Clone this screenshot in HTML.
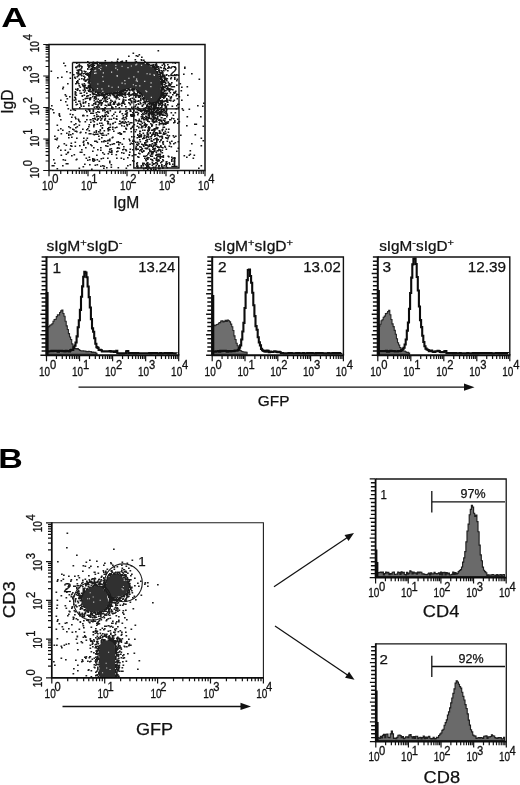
<!DOCTYPE html>
<html lang="en"><head><meta charset="utf-8"><title>Figure</title>
<style>html,body{margin:0;padding:0;background:#fff}body{width:520px;height:785px;overflow:hidden}svg{display:block}text{font-family:'Liberation Sans', sans-serif}</style>
</head><body>
<svg width="520" height="785" viewBox="0 0 520 785">
<rect width="520" height="785" fill="#fff"/>
<g transform="translate(1.2 27) scale(1.27 1)"><text x="0" y="0" font-size="28.3" font-weight="bold" fill="#000">A</text></g>
<g transform="translate(-1.8 468) scale(1.2 1)"><text x="0" y="0" font-size="28.3" font-weight="bold" fill="#000">B</text></g>
<path d="M133.8 62.5V108.8" stroke="#333" stroke-width="1" fill="none"/>
<path d="M101 94.25h1.65M123 94.25h1.65M81 75.75h1.65M79 90.75h1.65M89.5 65.25h1.65M76 83.25h1.65M104 64.75h1.65M142.5 110.25h1.65M86 73.75h1.65M158.5 71.75h1.65M83 76.25h1.65M156.5 69.25h1.65M91.5 72.25h1.65M86 88.25h1.65M157.5 99.75h1.65M149 102.25h1.65M129.5 99.75h1.65M156 69.25h1.65M142.5 102.75h1.65M114.5 101.25h1.65M165.5 107.75h1.65M160.5 95.75h1.65M158 68.75h1.65M90.5 81.75h1.65M98 92.75h1.65M156 65.25h1.65M137.5 96.75h1.65M148 64.25h1.65M131.5 98.25h1.65M120 62.25h1.65M88.5 80.25h1.65M154 117.75h1.65M133 107.25h1.65M114.5 93.75h1.65M83.5 85.75h1.65M162.5 120.25h1.65M83 106.25h1.65M89.5 99.25h1.65M136 94.25h1.65M67.5 108.75h1.65M94.5 91.75h1.65M162.5 89.25h1.65M157 74.75h1.65M100 66.25h1.65M150.5 105.75h1.65M170.5 96.75h1.65M159 123.75h1.65M74.5 97.75h1.65M146 105.75h1.65M151.5 113.75h1.65M85.5 98.25h1.65M87 79.25h1.65M123.5 123.25h1.65M111 107.25h1.65M164 79.75h1.65M98.5 91.25h1.65M161 76.25h1.65M130 114.75h1.65M143 97.75h1.65M123 117.75h1.65M121.5 89.75h1.65M87.5 82.75h1.65M175 91.25h1.65M137.5 101.25h1.65M179.5 83.75h1.65M155.5 64.25h1.65M144.5 111.75h1.65M172 86.75h1.65M108 93.25h1.65M122 94.25h1.65M107 92.75h1.65M142.5 109.25h1.65M144 124.25h1.65M137 107.25h1.65M78 83.75h1.65M78.5 66.75h1.65M87.5 86.25h1.65M93.5 65.25h1.65M104.5 60.75h1.65M168 89.75h1.65M160 103.75h1.65M165.5 93.75h1.65M129 90.75h1.65M166 113.75h1.65M92.5 89.25h1.65M120.5 90.25h1.65M89 88.75h1.65M117 105.25h1.65M111 91.75h1.65M84 73.25h1.65M135 93.75h1.65M115.5 118.75h1.65M106.5 94.75h1.65M100 102.25h1.65M147 64.75h1.65M106 62.75h1.65M163 68.75h1.65M98 92.25h1.65M85 71.75h1.65M160.5 79.25h1.65M141.5 63.75h1.65M153 69.25h1.65M91.5 88.75h1.65M159.5 112.75h1.65M107 62.75h1.65M117.5 92.75h1.65M140.5 111.25h1.65M104.5 116.75h1.65M176 94.25h1.65M91.5 67.75h1.65M151.5 66.75h1.65M157.5 98.75h1.65M124.5 95.25h1.65M164 84.75h1.65M93 69.75h1.65M163 101.75h1.65M115.5 63.75h1.65M95.5 63.75h1.65M113 91.75h1.65M78.5 125.25h1.65M91.5 65.25h1.65M101 123.25h1.65M128.5 89.75h1.65M163 96.75h1.65M160 107.75h1.65M93.5 65.25h1.65M89 91.25h1.65M124.5 90.25h1.65M85.5 80.75h1.65M125 117.25h1.65M155.5 101.25h1.65M147.5 106.25h1.65M149 103.75h1.65M146 110.75h1.65M155 106.25h1.65M158 70.75h1.65M77.5 75.75h1.65M112.5 93.25h1.65M78 70.75h1.65M103 92.75h1.65M165 90.75h1.65M84.5 80.25h1.65M151.5 65.25h1.65M154 104.25h1.65M87 69.25h1.65M147.5 103.75h1.65M163.5 90.25h1.65M158 68.75h1.65M104.5 112.75h1.65M164.5 100.75h1.65M146 63.75h1.65M107.5 104.25h1.65M159.5 67.25h1.65M88.5 79.25h1.65M168.5 67.75h1.65M122.5 63.25h1.65M117 59.25h1.65M90.5 87.75h1.65M104.5 100.25h1.65M91 77.75h1.65M147.5 110.25h1.65M146 107.75h1.65M83 86.25h1.65M82.5 102.25h1.65M163.5 110.25h1.65M91.5 69.75h1.65M129.5 104.75h1.65M154 66.75h1.65M160 83.25h1.65M92 69.25h1.65M104.5 64.25h1.65M88 75.75h1.65M73 74.75h1.65M163.5 67.25h1.65M173.5 93.25h1.65M162.5 76.75h1.65M125 100.25h1.65M153 106.25h1.65M93 89.25h1.65M152.5 103.75h1.65M169 119.75h1.65M92 65.25h1.65M113.5 96.75h1.65M81 66.75h1.65M99 91.75h1.65M163 93.25h1.65M154.5 69.25h1.65M79 101.25h1.65M92.5 111.25h1.65M148.5 106.25h1.65M86.5 88.25h1.65M167 68.25h1.65M170 98.75h1.65M166 85.75h1.65M126.5 94.25h1.65M146.5 64.25h1.65M161.5 89.25h1.65M160.5 78.25h1.65M144 95.25h1.65M140 92.75h1.65M148.5 100.75h1.65M93.5 98.75h1.65M139.5 63.25h1.65M162 84.25h1.65M126.5 87.75h1.65M109 93.75h1.65M138 97.25h1.65M122 90.75h1.65M125.5 113.25h1.65M160 92.75h1.65M75 67.25h1.65M120 93.25h1.65M132.5 115.25h1.65M169.5 85.25h1.65M102 95.25h1.65M99 103.75h1.65M91.5 113.25h1.65M95.5 98.25h1.65M164 87.25h1.65M134 88.75h1.65M147 63.25h1.65M161.5 94.25h1.65M86.5 75.25h1.65M164 95.25h1.65M92 93.75h1.65M133.5 124.75h1.65M151.5 121.25h1.65M101.5 115.75h1.65M160.5 120.25h1.65M159.5 73.25h1.65M93.5 69.75h1.65M164 105.25h1.65M137 90.75h1.65M161.5 83.25h1.65M147 101.75h1.65M90.5 64.25h1.65M90 113.25h1.65M160 73.75h1.65M88.5 85.75h1.65M154.5 65.25h1.65M92.5 88.75h1.65M157.5 102.25h1.65M91 84.75h1.65M76 81.75h1.65M161.5 88.75h1.65M116 92.25h1.65M118.5 94.75h1.65M90 75.75h1.65M102.5 95.75h1.65M133 63.25h1.65M93 94.25h1.65M143.5 101.25h1.65M176 85.25h1.65M163 80.75h1.65M162.5 93.25h1.65M132 90.75h1.65M100 95.25h1.65M89 66.75h1.65M155.5 101.75h1.65M140 64.25h1.65M123.5 63.25h1.65M136.5 112.25h1.65M94.5 92.25h1.65M163.5 64.25h1.65M181 100.25h1.65M155.5 102.75h1.65M162.5 109.75h1.65M168 88.75h1.65M89.5 74.75h1.65M159.5 75.25h1.65M143 94.25h1.65M89 99.75h1.65M62.5 87.25h1.65M91.5 74.75h1.65M125 92.25h1.65M141.5 96.75h1.65M90.5 78.75h1.65M87.5 90.25h1.65M133.5 95.25h1.65M160 90.75h1.65M108.5 98.25h1.65M87.5 109.75h1.65M79.5 87.25h1.65M96.5 124.25h1.65M174 67.25h1.65M141 114.75h1.65M163.5 91.25h1.65M143 63.75h1.65M93.5 88.75h1.65M144 110.75h1.65M177.5 107.75h1.65M153 67.25h1.65M123 99.75h1.65M160.5 73.25h1.65M131 116.25h1.65M147 63.75h1.65M92 63.75h1.65M90 97.75h1.65M111 92.25h1.65M130 115.75h1.65M126 90.75h1.65M113.5 102.25h1.65M170.5 89.25h1.65M156.5 107.75h1.65M121.5 90.25h1.65M107.5 121.75h1.65M128.5 62.75h1.65M93.5 94.25h1.65M95 91.75h1.65M178.5 96.75h1.65M125 88.25h1.65M150.5 101.75h1.65M134.5 100.25h1.65M119.5 90.75h1.65M92.5 87.75h1.65M161.5 88.75h1.65M162 101.25h1.65M104 63.75h1.65M165.5 106.25h1.65M109.5 110.75h1.65M80 104.75h1.65M161.5 79.25h1.65M135.5 95.25h1.65M109 92.75h1.65M106 105.75h1.65M91.5 92.75h1.65M128.5 92.75h1.65M87 69.25h1.65M141.5 94.75h1.65M160.5 89.75h1.65M147 121.25h1.65M128.5 89.75h1.65M89.5 89.75h1.65M128 108.75h1.65M104 98.75h1.65M69 96.75h1.65M100 120.25h1.65M116.5 95.75h1.65M125 88.75h1.65M156 72.75h1.65M143 64.25h1.65M106.5 93.25h1.65M135.5 104.75h1.65M158 98.25h1.65M135 108.25h1.65M144 101.25h1.65M90 72.75h1.65M94 69.25h1.65M93 88.25h1.65M141 118.75h1.65M174 74.75h1.65M176 74.75h1.65M145.5 64.75h1.65M81.5 84.25h1.65M142 98.75h1.65M140 64.25h1.65M103.5 116.25h1.65M132 94.75h1.65M120 89.75h1.65M158 103.75h1.65M153 115.75h1.65M166 80.75h1.65M91 82.25h1.65M110.5 92.25h1.65M121.5 93.25h1.65M97.5 66.25h1.65M166 109.75h1.65M151 102.75h1.65M101 64.25h1.65M176.5 98.75h1.65M122.5 103.25h1.65M76.5 104.25h1.65M137.5 108.25h1.65M100 91.75h1.65M159 104.75h1.65M132.5 108.75h1.65M105.5 94.25h1.65M120.5 93.75h1.65M138.5 90.75h1.65M160.5 67.75h1.65M166.5 115.25h1.65M118 62.75h1.65M164.5 93.25h1.65M174 77.75h1.65M89.5 84.25h1.65M105.5 64.25h1.65M114 93.25h1.65M163.5 101.25h1.65M99.5 63.75h1.65M152.5 64.75h1.65M159.5 79.75h1.65M173.5 100.25h1.65M100.5 93.75h1.65M157 101.75h1.65M89.5 86.25h1.65M134 89.75h1.65M161 105.75h1.65M88 85.75h1.65M164.5 95.25h1.65M141 110.75h1.65M117 92.25h1.65M128.5 87.75h1.65M89.5 72.75h1.65M110 100.25h1.65M157 74.25h1.65M133.5 115.75h1.65M108.5 105.25h1.65M129 63.75h1.65M166.5 101.75h1.65M156 110.75h1.65M82.5 99.75h1.65M133.5 88.75h1.65M95.5 106.75h1.65M161.5 73.25h1.65M137.5 90.25h1.65M172.5 115.25h1.65M152.5 118.25h1.65M89 89.75h1.65M167.5 82.25h1.65M90.5 73.25h1.65M165 83.25h1.65M121.5 61.25h1.65M87 75.25h1.65M152 67.25h1.65M164.5 103.75h1.65M161 76.25h1.65M125 63.25h1.65M106 111.75h1.65M163 63.75h1.65M116.5 61.25h1.65M85.5 87.75h1.65M126 124.75h1.65M129 103.25h1.65M123.5 119.75h1.65M88.5 82.25h1.65M134.5 94.25h1.65M80 74.75h1.65M156.5 72.25h1.65M138.5 92.25h1.65M152.5 107.75h1.65M86.5 98.25h1.65M103.5 64.75h1.65M124 89.75h1.65M96.5 62.25h1.65M130.5 89.75h1.65M96.5 101.25h1.65M115.5 92.75h1.65M139.5 96.25h1.65M143 99.75h1.65M89.5 69.25h1.65M94 67.75h1.65M111 106.75h1.65M92.5 109.75h1.65M110 105.25h1.65M121 91.25h1.65M161.5 72.75h1.65M160 91.75h1.65M83 79.75h1.65M116 62.75h1.65M160 102.25h1.65M102 93.75h1.65M131.5 90.25h1.65M146.5 99.25h1.65M88 103.75h1.65M134 89.75h1.65M173.5 86.75h1.65M159.5 93.75h1.65M123 91.25h1.65M120.5 89.75h1.65M155 118.25h1.65M91 78.75h1.65M147.5 110.75h1.65M89.5 81.25h1.65M120.5 91.75h1.65M168.5 83.75h1.65M89 110.25h1.65M77 80.75h1.65M168.5 100.25h1.65M115.5 98.75h1.65M139 91.75h1.65M119 91.25h1.65M109.5 104.25h1.65M101 62.75h1.65M146 101.25h1.65M88.5 74.75h1.65M165.5 108.25h1.65M159.5 98.25h1.65M173 92.75h1.65M151 104.25h1.65M75 102.25h1.65M93 94.25h1.65M128 63.25h1.65M98 65.75h1.65M79.5 74.75h1.65M163 89.75h1.65M117.5 95.25h1.65M161 92.75h1.65M64.5 94.75h1.65M117 90.75h1.65M86 96.25h1.65M171 82.75h1.65M92.5 67.25h1.65M106.5 101.75h1.65M130 87.25h1.65M156.5 73.25h1.65M140.5 94.75h1.65M157.5 110.25h1.65M132.5 115.25h1.65M90.5 74.75h1.65M81 78.75h1.65M131 102.75h1.65M94 118.25h1.65M128 93.25h1.65M122.5 100.75h1.65M82.5 115.25h1.65M134.5 101.75h1.65M154.5 70.75h1.65M165.5 88.75h1.65M109.5 95.75h1.65M178.5 121.75h1.65M166.5 93.25h1.65M99.5 66.25h1.65M112 63.25h1.65M112 107.75h1.65M149.5 65.75h1.65M122.5 90.75h1.65M97 66.25h1.65M98.5 94.25h1.65M114.5 63.75h1.65M120 90.25h1.65M150.5 65.25h1.65M124.5 63.75h1.65M75 83.75h1.65M165.5 86.25h1.65M91.5 72.75h1.65M74.5 110.25h1.65M170 119.75h1.65M112.5 104.25h1.65M121 103.25h1.65M110 64.25h1.65M159 76.75h1.65M90 75.75h1.65M132 112.75h1.65M137 63.75h1.65M104.5 94.75h1.65M155 71.25h1.65M138 104.25h1.65M132.5 114.75h1.65M167 87.25h1.65M107.5 95.25h1.65M86 93.25h1.65M141.5 63.75h1.65M134.5 95.25h1.65M170.5 97.25h1.65M117 93.25h1.65M75.5 67.75h1.65M98.5 92.25h1.65M86 111.75h1.65M85 101.75h1.65M132.5 87.75h1.65M84 86.75h1.65M165 122.75h1.65M136 89.75h1.65M160.5 100.75h1.65M160 76.25h1.65M148 101.75h1.65M91.5 77.75h1.65M163 81.75h1.65M92.5 65.75h1.65M139 93.75h1.65M139 63.25h1.65M161.5 102.25h1.65M129 90.75h1.65M150 106.25h1.65M161.5 100.75h1.65M177 104.25h1.65M89.5 91.75h1.65M104.5 97.75h1.65M86.5 79.75h1.65M94.5 91.75h1.65M119 91.25h1.65M116 116.25h1.65M133.5 92.25h1.65M110.5 63.75h1.65M141 93.25h1.65M123.5 93.25h1.65M158.5 72.75h1.65M165.5 112.75h1.65M125.5 113.75h1.65M166.5 100.25h1.65M74 77.25h1.65M85 74.25h1.65M154 102.25h1.65M82.5 103.25h1.65M111.5 101.25h1.65M94.5 103.75h1.65M96 107.25h1.65M156 67.25h1.65M156 103.75h1.65M170.5 77.75h1.65M113.5 93.25h1.65M90 119.75h1.65M116 97.25h1.65M79.5 103.25h1.65M75 99.25h1.65M93.5 89.75h1.65M114 92.75h1.65M89.5 80.75h1.65M131 107.75h1.65M163 98.25h1.65M133.5 87.75h1.65M161 88.25h1.65M161 103.25h1.65M162 72.75h1.65M69.5 114.25h1.65M122.5 62.75h1.65M113.5 62.75h1.65M167.5 82.75h1.65M119 93.75h1.65M129.5 98.75h1.65M160.5 101.25h1.65M106 94.25h1.65M87.5 75.25h1.65M160 95.25h1.65M145.5 119.75h1.65M82.5 73.75h1.65M107 123.25h1.65M160.5 82.75h1.65M134.5 102.25h1.65M122.5 89.25h1.65M86 119.75h1.65M89.5 94.75h1.65M91 66.25h1.65M95 89.25h1.65M87.5 66.25h1.65M128.5 96.25h1.65M156 107.75h1.65M162 104.75h1.65M142 98.75h1.65M87.5 87.75h1.65M163 87.25h1.65M66 71.75h1.65M152 66.25h1.65M133.5 93.25h1.65M162.5 92.25h1.65M93 71.25h1.65M87 95.75h1.65M161 77.25h1.65M89 83.75h1.65M164.5 106.25h1.65M148.5 64.75h1.65M158.5 96.75h1.65M90.5 70.75h1.65M142.5 99.25h1.65M143.5 117.75h1.65M105.5 101.75h1.65M165 86.25h1.65M108 63.25h1.65M102.5 109.25h1.65M84.5 90.75h1.65M88 90.25h1.65M89 72.75h1.65M111 91.75h1.65M173 118.75h1.65M159.5 77.75h1.65M122.5 91.75h1.65M147.5 108.25h1.65M125.5 60.75h1.65M159 78.75h1.65M110 105.25h1.65M155 101.75h1.65M166 74.75h1.65M165.5 101.25h1.65M90.5 84.75h1.65M103 63.75h1.65M124.5 92.75h1.65M105 93.25h1.65M138 96.25h1.65M119 112.25h1.65M99.5 102.75h1.65M102.5 92.75h1.65M84.5 85.25h1.65M132.5 89.25h1.65M153 109.25h1.65M84 89.25h1.65M155 71.25h1.65M77 82.25h1.65M96.5 91.75h1.65M133 87.75h1.65M156 103.75h1.65M134.5 87.75h1.65M98 94.75h1.65M121.5 96.25h1.65M121 94.75h1.65M123.5 89.25h1.65M99 95.25h1.65M94.5 91.75h1.65M93.5 88.25h1.65M159.5 100.75h1.65M161.5 89.75h1.65M135 97.25h1.65M122 118.25h1.65M95 92.25h1.65M102 64.25h1.65M174 79.25h1.65M180.5 90.75h1.65M88 73.75h1.65M163 70.75h1.65M164.5 68.75h1.65M137 91.25h1.65M141.5 106.25h1.65M138.5 108.75h1.65M181 87.25h1.65M161 90.75h1.65M113 102.75h1.65M111 62.25h1.65M133.5 99.25h1.65M107.5 123.75h1.65M160.5 113.25h1.65M137 95.25h1.65M74.5 91.75h1.65M161.5 100.25h1.65M162.5 93.75h1.65M156.5 71.75h1.65M88 91.25h1.65M104 96.25h1.65M90.5 80.25h1.65M136.5 91.25h1.65M88 76.75h1.65M76 63.25h1.65M80.5 106.25h1.65M128.5 87.75h1.65M83.5 92.25h1.65M172 94.75h1.65M114 102.75h1.65M118.5 107.75h1.65M126 115.75h1.65M161 82.75h1.65M77 89.75h1.65M69.5 78.25h1.65M122 101.25h1.65M106.5 63.75h1.65M164 81.25h1.65M154.5 108.25h1.65M96.5 107.25h1.65M103.5 109.75h1.65M151.5 102.25h1.65M126.5 90.75h1.65M87 73.25h1.65M104.5 64.75h1.65M78.5 85.75h1.65M140 124.75h1.65M164.5 105.75h1.65M177 119.25h1.65M135.5 61.75h1.65M140 62.75h1.65M77.5 72.25h1.65M124.5 121.75h1.65M136 63.25h1.65M162 89.25h1.65M170 100.75h1.65M163.5 118.75h1.65M83.5 71.25h1.65M147.5 108.75h1.65M167 102.25h1.65M162 74.25h1.65M110 102.25h1.65M158 99.75h1.65M120.5 61.75h1.65M166 95.25h1.65M115 96.25h1.65M140 103.75h1.65M155 71.75h1.65M109 94.75h1.65M114.5 93.75h1.65M171.5 106.25h1.65M161.5 97.25h1.65M151.5 66.75h1.65M97.5 118.75h1.65M75.5 95.25h1.65M159 103.25h1.65M91.5 65.75h1.65M135.5 95.75h1.65M160 87.25h1.65M96 67.75h1.65M164.5 107.25h1.65M97.5 99.25h1.65M133.5 89.25h1.65M112.5 94.75h1.65M141.5 117.75h1.65M97 111.75h1.65M144 98.75h1.65M170.5 86.75h1.65M170 84.25h1.65M164 76.75h1.65M172.5 101.25h1.65M77.5 71.25h1.65M148.5 116.75h1.65M163 97.75h1.65M97 93.25h1.65M84.5 81.25h1.65M87 74.25h1.65M142.5 118.25h1.65M137.5 103.75h1.65M144 97.75h1.65M139.5 110.75h1.65M140.5 93.75h1.65M120.5 95.25h1.65M156.5 99.75h1.65M104.5 105.25h1.65M151 102.25h1.65M104 94.75h1.65M155.5 104.25h1.65M173.5 92.25h1.65M151.5 65.25h1.65M125 97.25h1.65M97 93.75h1.65M106.5 99.25h1.65M133 89.75h1.65M103 97.25h1.65M117 91.75h1.65M119 95.75h1.65M88 90.25h1.65M161 94.25h1.65M162 104.75h1.65M161 103.25h1.65M95.5 91.25h1.65M106 63.75h1.65M131.5 94.25h1.65M91.5 69.25h1.65M97 101.75h1.65M140 98.25h1.65M122 89.75h1.65M158.5 70.25h1.65M147.5 66.25h1.65M100.5 100.25h1.65M134.5 59.75h1.65M88 81.25h1.65M146 124.75h1.65M166.5 89.75h1.65M92.5 66.25h1.65M158.5 100.25h1.65M141 111.75h1.65M155.5 101.25h1.65M162.5 94.75h1.65M80.5 93.25h1.65M96.5 66.25h1.65M128 88.75h1.65M96 94.75h1.65M160.5 94.25h1.65M121.5 89.75h1.65M163.5 75.25h1.65M88 65.25h1.65M125 88.75h1.65M169.5 97.75h1.65M88 67.25h1.65M102 92.25h1.65M94 63.25h1.65M160 72.75h1.65M81.5 95.75h1.65M115.5 98.25h1.65M95 68.75h1.65M157 74.75h1.65M121.5 90.25h1.65M88.5 98.25h1.65M112.5 95.25h1.65M168 96.25h1.65M113 114.25h1.65M107 111.25h1.65M106.5 101.75h1.65M144 102.75h1.65M121.5 118.75h1.65M101 103.75h1.65M162 87.25h1.65M117 93.75h1.65M138 100.75h1.65M142 93.25h1.65M182.5 110.25h1.65M114.5 97.25h1.65M154.5 64.75h1.65M92.5 94.75h1.65M111.5 94.25h1.65M163 115.25h1.65M92 92.25h1.65M152.5 122.75h1.65M117 97.75h1.65M98 92.75h1.65M82 115.75h1.65M101.5 102.75h1.65M162.5 70.75h1.65M107 93.25h1.65M100 92.75h1.65M169 88.75h1.65M172 89.75h1.65M125.5 88.25h1.65M128.5 94.25h1.65M82.5 90.25h1.65M143 60.25h1.65M134 63.75h1.65M168 66.75h1.65M169.5 92.75h1.65M165.5 79.25h1.65M78 73.25h1.65M176 80.75h1.65M156.5 108.75h1.65M123 102.75h1.65M163 94.25h1.65M93 103.75h1.65M157.5 66.75h1.65M159.5 77.75h1.65M164.5 82.75h1.65M157 100.75h1.65M124.5 88.75h1.65M176.5 79.25h1.65M154.5 67.25h1.65M138 95.75h1.65M98 65.75h1.65M112 108.75h1.65M83.5 83.75h1.65M138.5 119.25h1.65M106 97.25h1.65M98.5 112.25h1.65M160 84.25h1.65M159.5 83.25h1.65M152.5 66.75h1.65M164 65.75h1.65M108 105.25h1.65M162 74.75h1.65M159 96.25h1.65M104.5 98.25h1.65M113.5 92.25h1.65M140 98.75h1.65M76.5 70.25h1.65M163 86.75h1.65M156 119.75h1.65M92 92.75h1.65M92.5 90.25h1.65M157.5 98.75h1.65M102.5 94.75h1.65M113.5 95.25h1.65M92.5 113.25h1.65M159.5 111.25h1.65M139.5 102.25h1.65M102 98.75h1.65M79.5 93.25h1.65M120.5 122.25h1.65M160.5 70.75h1.65M131.5 89.75h1.65M118.5 99.25h1.65M78 120.25h1.65M104 108.25h1.65M107.5 64.25h1.65M167 88.75h1.65M113 92.25h1.65M128.5 92.75h1.65M160.5 83.75h1.65M90.5 70.25h1.65M150 102.25h1.65M97.5 91.75h1.65M153 102.75h1.65M172 62.75h1.65M132 90.25h1.65M123 90.25h1.65M163 87.75h1.65M84 77.25h1.65M94.5 68.25h1.65M91 91.25h1.65M89.5 69.25h1.65M114.5 102.25h1.65M159.5 79.75h1.65M91 85.75h1.65M61 77.25h1.65M97.5 116.25h1.65M97 95.75h1.65M154.5 70.75h1.65M160.5 91.75h1.65M90 78.25h1.65M154.5 112.75h1.65M98 102.25h1.65M131.5 88.75h1.65M111 62.75h1.65M158 101.25h1.65M151 109.75h1.65M124.5 88.25h1.65M161 80.75h1.65M146.5 104.75h1.65M151.5 67.75h1.65M65.5 96.25h1.65M156 66.25h1.65M119 104.25h1.65M170 78.75h1.65M109.5 64.25h1.65M87 64.75h1.65M155 102.75h1.65M91.5 87.25h1.65M115 106.75h1.65M83.5 87.75h1.65M160 81.75h1.65M113 118.25h1.65M130.5 89.25h1.65M92.5 67.75h1.65M145 97.75h1.65M92 96.75h1.65M90.5 84.75h1.65M108 63.75h1.65M164 96.25h1.65M109.5 93.75h1.65M174 122.25h1.65M90 77.25h1.65M183 74.25h1.65M91 71.25h1.65M167 123.25h1.65M153.5 109.75h1.65M85.5 80.25h1.65M140 100.25h1.65M130 100.75h1.65M125.5 62.25h1.65M138 62.75h1.65M158.5 74.75h1.65M132 63.75h1.65M135 96.75h1.65M89 77.75h1.65M87.5 65.75h1.65M132 108.75h1.65M129.5 63.75h1.65M145 97.25h1.65M155.5 102.75h1.65M104 115.25h1.65M127.5 87.75h1.65M82 85.25h1.65M85 110.25h1.65M138 90.25h1.65M134.5 94.75h1.65M87 61.75h1.65M74.5 78.25h1.65M142 113.75h1.65M118 103.25h1.65M120 94.25h1.65M124.5 92.75h1.65M93.5 115.75h1.65M162.5 75.75h1.65M102.5 63.75h1.65M90 85.25h1.65M178 104.25h1.65M167 70.75h1.65M87 95.75h1.65M140 92.75h1.65M122 102.25h1.65M161 117.75h1.65M151.5 104.75h1.65M119 121.25h1.65M168.5 85.75h1.65M92.5 64.75h1.65M161.5 85.75h1.65M149 109.75h1.65M123 101.25h1.65M94 89.75h1.65M94 96.75h1.65M120.5 94.75h1.65M97 64.75h1.65M164.5 96.75h1.65M126.5 124.75h1.65M128 102.75h1.65M74 97.25h1.65M153.5 105.75h1.65M102 110.75h1.65M107 123.75h1.65M95.5 68.75h1.65M138.5 63.25h1.65M113.5 92.75h1.65M159.5 93.25h1.65M92 72.25h1.65M161.5 103.25h1.65M165 86.75h1.65M107.5 113.25h1.65M88.5 83.75h1.65M168 75.75h1.65M153.5 66.75h1.65M88.5 77.75h1.65M111 93.25h1.65M151.5 112.25h1.65M165 107.25h1.65M101.5 108.75h1.65M154.5 117.25h1.65M166.5 102.25h1.65M129.5 100.25h1.65M177.5 75.25h1.65M77.5 119.25h1.65M155 107.25h1.65M75 92.75h1.65M128 94.75h1.65M125 106.75h1.65M176 105.75h1.65M108.5 119.25h1.65M95 104.25h1.65M151 110.75h1.65M96.5 66.25h1.65M130.5 89.75h1.65M97 65.75h1.65M97 93.25h1.65M163.5 97.25h1.65M92.5 87.25h1.65M96 95.75h1.65M138 121.25h1.65M95 99.25h1.65M121 105.75h1.65M156.5 72.25h1.65M102.5 92.25h1.65M134.5 62.25h1.65M140.5 93.75h1.65M167 64.75h1.65M166.5 78.75h1.65M99 100.75h1.65M160 96.75h1.65M163.5 78.25h1.65M87.5 95.75h1.65M158.5 99.25h1.65M98.5 65.25h1.65M133.5 101.75h1.65M104.5 107.75h1.65M105 101.75h1.65M156.5 113.25h1.65M124.5 93.75h1.65M82.5 86.25h1.65M78.5 64.25h1.65M138.5 89.75h1.65M159.5 76.25h1.65M153.5 68.25h1.65M98 102.75h1.65M76.5 76.75h1.65M147.5 111.75h1.65M152 66.25h1.65M83.5 95.25h1.65M168 85.25h1.65M160 83.75h1.65M123 97.25h1.65M157 67.25h1.65M162.5 80.75h1.65M140 111.25h1.65M162.5 96.25h1.65M96.5 66.75h1.65M125 100.25h1.65M110 91.75h1.65M167 104.75h1.65M102.5 92.75h1.65M151 124.75h1.65M75 99.75h1.65M74.5 93.25h1.65M156.5 112.75h1.65M152.5 107.75h1.65M136 63.25h1.65M73 109.75h1.65M136.5 109.75h1.65M97 67.25h1.65M161 89.75h1.65M152.5 67.25h1.65M141.5 96.25h1.65M116.5 97.25h1.65M96 67.25h1.65M173 122.75h1.65M165 69.75h1.65M149.5 101.75h1.65M168.5 91.25h1.65M174.5 63.25h1.65M101.5 95.75h1.65M91 75.75h1.65M166 98.75h1.65M143.5 125.25h1.65M154.5 111.25h1.65M120.5 92.25h1.65M159.5 96.75h1.65M81.5 96.25h1.65M83.5 78.75h1.65M169.5 89.75h1.65M88.5 63.25h1.65M101.5 64.25h1.65M119.5 91.25h1.65M98.5 95.75h1.65M121.5 63.25h1.65M77 88.75h1.65M119.5 111.25h1.65M127.5 89.75h1.65M131.5 115.25h1.65M162 88.75h1.65M177.5 75.25h1.65M112.5 63.75h1.65M161 87.25h1.65M139 64.25h1.65M75 89.25h1.65M158 74.75h1.65M154.5 102.25h1.65M161.5 71.75h1.65M174.5 92.75h1.65M159.5 73.75h1.65M161.5 105.25h1.65M149 104.25h1.65M92.5 63.25h1.65M93 90.75h1.65M99 63.25h1.65M95 102.25h1.65M120 123.75h1.65M161.5 65.25h1.65M90 74.25h1.65M84.5 102.75h1.65M109.5 102.75h1.65M90 71.75h1.65M94 97.25h1.65M95.5 95.75h1.65M150.5 107.25h1.65M92.5 62.25h1.65M128.5 63.75h1.65M161.5 95.25h1.65M91 84.75h1.65M92 90.25h1.65M99 91.75h1.65M84.5 98.75h1.65M117 63.75h1.65M78 101.25h1.65M89 87.25h1.65M129.5 122.75h1.65M131 101.25h1.65M140.5 92.75h1.65M124.5 92.75h1.65M152.5 112.75h1.65M140.5 116.75h1.65M74.5 94.75h1.65M92 92.75h1.65M159.5 104.75h1.65M94.5 94.25h1.65M98 92.75h1.65M93 93.75h1.65M104 108.25h1.65M177.5 94.75h1.65M165.5 75.25h1.65M103.5 92.75h1.65M140 63.25h1.65M83.5 85.75h1.65M160 95.25h1.65M123.5 94.75h1.65M76.5 90.25h1.65M87 68.75h1.65M101 63.75h1.65M89.5 84.25h1.65M91 68.75h1.65M161 93.25h1.65M93.5 100.75h1.65M155 67.75h1.65M133 63.25h1.65M127 88.75h1.65M78.5 79.25h1.65M116 95.75h1.65M105 100.75h1.65M113.5 63.75h1.65M125.5 122.75h1.65M126 116.25h1.65M160.5 109.75h1.65M155.5 63.75h1.65M127.5 89.25h1.65M163 82.25h1.65M152.5 67.25h1.65M161.5 76.25h1.65M136.5 101.25h1.65M137 92.75h1.65M166 100.25h1.65M158.5 124.75h1.65M116.5 104.25h1.65M163.5 68.25h1.65M100.5 105.25h1.65M132.5 93.75h1.65M94 103.25h1.65M91 75.25h1.65M138.5 97.25h1.65M174.5 112.75h1.65M66.5 105.25h1.65M175.5 95.75h1.65M113.5 104.25h1.65M156.5 102.25h1.65M87.5 87.25h1.65M144 61.75h1.65M73.5 100.25h1.65M117 90.75h1.65M94.5 89.25h1.65M165 78.25h1.65M158 105.75h1.65M89 76.25h1.65M90.5 80.25h1.65M105.5 62.75h1.65M95 97.25h1.65M105 97.75h1.65M156.5 72.25h1.65M95.5 90.75h1.65M128 99.75h1.65M162 114.25h1.65M116.5 95.25h1.65M96.5 63.25h1.65M97 106.25h1.65M160 95.25h1.65M103 101.25h1.65M112.5 94.75h1.65M139 95.75h1.65M106.5 121.25h1.65M130.5 94.75h1.65M161.5 81.75h1.65M127.5 89.75h1.65M106 96.75h1.65M122.5 99.25h1.65M91 85.25h1.65M160 94.75h1.65M163 109.25h1.65M96.5 120.25h1.65M130 95.25h1.65M161 84.75h1.65M153 121.75h1.65M116 93.75h1.65M119 92.75h1.65M145.5 101.75h1.65M157 116.75h1.65M159.5 104.25h1.65M93.5 107.25h1.65M144.5 113.75h1.65M153.5 101.75h1.65M152.5 65.25h1.65M147.5 111.25h1.65M151 105.25h1.65M160.5 117.75h1.65M134.5 106.25h1.65M158 107.75h1.65M154 109.25h1.65M161 114.75h1.65M150 103.75h1.65M161 112.25h1.65M166 100.25h1.65M131 107.25h1.65M159 114.25h1.65M146 107.25h1.65M145 107.75h1.65M143.5 101.75h1.65M154 108.75h1.65M138 110.25h1.65M164.5 104.25h1.65M149 106.25h1.65M152.5 104.75h1.65M144.5 102.25h1.65M161 107.25h1.65M142.5 104.75h1.65M143.5 112.25h1.65M148 106.75h1.65M151 105.75h1.65M155 115.25h1.65M149 108.75h1.65M154 112.75h1.65M147 98.25h1.65M147.5 108.25h1.65M155 115.25h1.65M156.5 118.25h1.65M138 100.75h1.65M149 108.75h1.65M151 101.25h1.65M146 113.75h1.65M153 116.75h1.65M161 101.75h1.65M145.5 99.75h1.65M142.5 109.25h1.65M150 106.75h1.65M141.5 105.75h1.65M157 112.25h1.65M144.5 103.75h1.65M155 105.75h1.65M160 101.25h1.65M154 109.25h1.65M153 105.75h1.65M158.5 104.75h1.65M140.5 167.25h1.65M166.5 141.25h1.65M168.5 135.75h1.65M142 144.75h1.65M145 140.75h1.65M159.5 114.75h1.65M159 141.75h1.65M159.5 156.25h1.65M133.5 136.75h1.65M157 161.25h1.65M160 151.75h1.65M148 152.75h1.65M163.5 127.25h1.65M147.5 165.25h1.65M146 136.25h1.65M161.5 129.75h1.65M172 164.25h1.65M154 122.25h1.65M151.5 143.75h1.65M169 164.25h1.65M145 168.25h1.65M173 143.75h1.65M140 121.25h1.65M150.5 141.25h1.65M145 142.75h1.65M151.5 162.75h1.65M150.5 152.75h1.65M140.5 134.75h1.65M140.5 135.25h1.65M147 159.25h1.65M159.5 154.25h1.65M163 110.75h1.65M152.5 133.25h1.65M162.5 144.25h1.65M142.5 133.25h1.65M151 135.25h1.65M146.5 139.75h1.65M153 145.25h1.65M140 149.75h1.65M138 127.75h1.65M152.5 133.75h1.65M158 166.75h1.65M155 162.75h1.65M154.5 138.75h1.65M147 120.25h1.65M162 114.25h1.65M157 127.75h1.65M152.5 129.75h1.65M148.5 115.75h1.65M165.5 164.75h1.65M160 133.25h1.65M151.5 165.25h1.65M143.5 108.75h1.65M139 136.75h1.65M135 154.75h1.65M158.5 130.75h1.65M165.5 161.75h1.65M159.5 133.25h1.65M155.5 124.75h1.65M153 110.25h1.65M143.5 135.25h1.65M146 163.25h1.65M143.5 138.25h1.65M158.5 124.75h1.65M140.5 166.25h1.65M154.5 144.25h1.65M150 156.25h1.65M146 167.25h1.65M171 157.25h1.65M159 120.75h1.65M153 148.75h1.65M154.5 135.25h1.65M147.5 115.25h1.65M161 136.75h1.65M132 141.25h1.65M147 133.75h1.65M151 154.25h1.65M154.5 145.75h1.65M150.5 152.25h1.65M158.5 122.75h1.65M149.5 136.75h1.65M132 116.25h1.65M167 138.75h1.65M161 136.75h1.65M173.5 161.25h1.65M161.5 137.75h1.65M144.5 156.25h1.65M140.5 121.75h1.65M152.5 164.25h1.65M160.5 123.75h1.65M137.5 113.25h1.65M130.5 131.75h1.65M152.5 120.25h1.65M159 131.25h1.65M165.5 111.25h1.65M135.5 129.75h1.65M148.5 167.25h1.65M128.5 124.25h1.65M154.5 148.75h1.65M156.5 156.25h1.65M143 102.75h1.65M165 164.25h1.65M162 129.25h1.65M153 110.25h1.65M151 152.75h1.65M163.5 123.75h1.65M144 130.25h1.65M163.5 112.75h1.65M160 162.75h1.65M148.5 129.75h1.65M139 146.75h1.65M153.5 150.25h1.65M147 130.75h1.65M120.5 133.75h1.65M147 164.25h1.65M158.5 147.25h1.65M151.5 119.75h1.65M157.5 150.75h1.65M177.5 148.25h1.65M155.5 165.75h1.65M137 149.25h1.65M151.5 153.75h1.65M158 168.75h1.65M160.5 120.75h1.65M176 151.25h1.65M152.5 167.25h1.65M158 120.25h1.65M166 116.75h1.65M151 114.75h1.65M129.5 111.25h1.65M156.5 109.75h1.65M159 132.25h1.65M162 142.75h1.65M156.5 128.75h1.65M149 112.75h1.65M162 167.25h1.65M162.5 124.75h1.65M156.5 160.25h1.65M160 146.25h1.65M148 126.75h1.65M157 114.25h1.65M142.5 165.75h1.65M173.5 158.25h1.65M150.5 136.75h1.65M158 159.75h1.65M132 149.75h1.65M161 164.75h1.65M149.5 133.25h1.65M156 146.25h1.65M161 109.75h1.65M164 120.75h1.65M164.5 111.25h1.65M143 114.25h1.65M149.5 132.75h1.65M173.5 137.25h1.65M141 126.25h1.65M138.5 136.25h1.65M153.5 114.75h1.65M132.5 140.25h1.65M131.5 155.75h1.65M144.5 148.25h1.65M137 145.25h1.65M166 122.25h1.65M148.5 167.75h1.65M145 118.75h1.65M157.5 112.25h1.65M148 153.25h1.65M144 135.75h1.65M143 145.25h1.65M142 163.25h1.65M166 138.25h1.65M166.5 135.25h1.65M157.5 139.75h1.65M150.5 145.25h1.65M165.5 129.25h1.65M139 139.75h1.65M159 119.75h1.65M162.5 141.75h1.65M161 161.75h1.65M160.5 136.25h1.65M154 163.75h1.65M151.5 130.25h1.65M147 133.25h1.65M144.5 109.75h1.65M140.5 127.75h1.65M171 141.25h1.65M150.5 140.75h1.65M149 150.25h1.65M151.5 156.25h1.65M151 126.25h1.65M158 165.75h1.65M152.5 108.75h1.65M159 154.75h1.65M153 115.25h1.65M163 124.25h1.65M139 135.25h1.65M153.5 114.75h1.65M145.5 111.75h1.65M164.5 147.25h1.65M145.5 144.75h1.65M143 163.25h1.65M175 136.25h1.65M147 119.25h1.65M141 151.25h1.65M160 145.75h1.65M151.5 134.75h1.65M156.5 135.25h1.65M158.5 165.75h1.65M147 136.25h1.65M159.5 114.75h1.65M142 116.25h1.65M148.5 121.75h1.65M156.5 133.75h1.65M145 126.25h1.65M136 144.25h1.65M162 159.75h1.65M133.5 141.25h1.65M148.5 149.25h1.65M149 144.75h1.65M162.5 155.75h1.65M146 155.75h1.65M164.5 118.75h1.65M144.5 127.25h1.65M133 110.75h1.65M141 149.25h1.65M164.5 133.75h1.65M148 127.75h1.65M147.5 127.75h1.65M154.5 167.25h1.65M154 150.75h1.65M147.5 117.25h1.65M146 165.75h1.65M154 136.25h1.65M153 116.25h1.65M143.5 119.75h1.65M152 116.75h1.65M163.5 165.75h1.65M146 119.25h1.65M150 159.25h1.65M147.5 137.25h1.65M148.5 128.25h1.65M154.5 138.75h1.65M156 140.25h1.65M162.5 127.25h1.65M158 149.25h1.65M159 149.75h1.65M152.5 149.25h1.65M155 132.75h1.65M168 129.25h1.65M155.5 155.25h1.65M156 132.75h1.65M157.5 135.75h1.65M155 162.75h1.65M148.5 108.25h1.65M153.5 131.25h1.65M148 157.75h1.65M146.5 132.75h1.65M144.5 124.75h1.65M152 149.25h1.65M169 142.25h1.65M162.5 141.75h1.65M161.5 130.75h1.65M156.5 164.25h1.65M175.5 108.75h1.65M162 142.25h1.65M138 143.75h1.65M154.5 142.75h1.65M147 157.75h1.65M160.5 147.25h1.65M155 138.75h1.65M143 119.75h1.65M157 118.75h1.65M155 155.25h1.65M166 123.25h1.65M174 120.75h1.65M171 161.25h1.65M164.5 133.75h1.65M139 131.25h1.65M138 153.25h1.65M156 139.75h1.65M136 166.25h1.65M168 156.75h1.65M135.5 148.75h1.65M149 151.25h1.65M169.5 143.75h1.65M133.5 154.75h1.65M145.5 167.75h1.65M158.5 111.75h1.65M142 130.25h1.65M153.5 151.25h1.65M146.5 120.25h1.65M145.5 118.25h1.65M147 154.25h1.65M144 142.75h1.65M162.5 134.25h1.65M167.5 121.75h1.65M153.5 128.75h1.65M141 127.75h1.65M146 136.25h1.65M161.5 156.75h1.65M155.5 112.25h1.65M153 119.25h1.65M153 132.25h1.65M142 126.75h1.65M137 123.25h1.65M146 165.75h1.65M135 119.75h1.65M145.5 148.25h1.65M140.5 165.75h1.65M143 156.25h1.65M165.5 149.25h1.65M165.5 166.25h1.65M143 137.25h1.65M156 142.25h1.65M161.5 136.25h1.65M146 117.25h1.65M158.5 133.25h1.65M167.5 137.25h1.65M147.5 165.75h1.65M147.5 110.25h1.65M144 143.75h1.65M155.5 152.25h1.65M154 130.25h1.65M150.5 118.25h1.65M162 111.75h1.65M161 121.75h1.65M156.5 163.75h1.65M136.5 144.25h1.65M149 164.25h1.65M135.5 146.75h1.65M145.5 148.75h1.65M152 160.75h1.65M151 130.25h1.65M180 135.25h1.65M152 103.25h1.65M167.5 156.25h1.65M147 130.25h1.65M154.5 134.25h1.65M144.5 111.25h1.65M156.5 139.25h1.65M139 150.75h1.65M139 133.25h1.65M136.5 165.25h1.65M150.5 146.25h1.65M145 116.25h1.65M148.5 130.25h1.65M151.5 160.75h1.65M160 140.25h1.65M150.5 138.75h1.65M159 136.75h1.65M177.5 141.75h1.65M152 147.25h1.65M146 112.25h1.65M161.5 150.25h1.65M149 113.25h1.65M164 121.75h1.65M161.5 138.25h1.65M153.5 158.25h1.65M145 159.75h1.65M147.5 118.25h1.65M143 150.75h1.65M129.5 109.75h1.65M150.5 113.25h1.65M148 128.25h1.65M155 128.75h1.65M168.5 162.75h1.65M145.5 124.75h1.65M151.5 119.75h1.65M146.5 148.25h1.65M166.5 163.75h1.65M174.5 142.75h1.65M146 145.25h1.65M151.5 125.25h1.65M159.5 158.25h1.65M152.5 146.25h1.65M147.5 146.75h1.65M153 163.75h1.65M147 162.75h1.65M162 147.75h1.65M158.5 133.25h1.65M163 132.75h1.65M142 164.25h1.65M164.5 131.25h1.65M172.5 135.75h1.65M139.5 131.25h1.65M152 134.25h1.65M154 163.75h1.65M146 148.75h1.65M143 168.75h1.65M148.5 146.25h1.65M158 154.25h1.65M164 146.25h1.65M149 127.75h1.65M149 114.25h1.65M137 156.75h1.65M158.5 156.75h1.65M157 147.25h1.65M155.5 144.25h1.65M157 146.75h1.65M162.5 157.25h1.65M152 153.75h1.65M142 126.75h1.65M165 137.75h1.65M141.5 148.75h1.65M147 145.25h1.65M174 158.25h1.65M130.5 128.25h1.65M150.5 169.25h1.65M159 168.75h1.65M156 121.75h1.65M137 167.75h1.65M143.5 122.25h1.65M146.5 134.25h1.65M164.5 115.25h1.65M138.5 120.75h1.65M145.5 119.75h1.65M162.5 160.75h1.65M156 162.25h1.65M150 118.75h1.65M149.5 155.25h1.65M147.5 134.75h1.65M153 169.25h1.65M156 154.25h1.65M156.5 109.75h1.65M170.5 112.75h1.65M148.5 139.25h1.65M150 168.75h1.65M141.5 152.25h1.65M166.5 167.75h1.65M160.5 139.75h1.65M165 133.25h1.65M153.5 142.75h1.65M151.5 141.25h1.65M133 114.25h1.65M151 109.25h1.65M156.5 150.75h1.65M152 151.75h1.65M156 128.25h1.65M165.5 163.25h1.65M171 159.75h1.65M146 140.25h1.65M140.5 147.25h1.65M156 158.75h1.65M156 140.75h1.65M154.5 148.25h1.65M144.5 123.75h1.65M147.5 131.25h1.65M143.5 163.75h1.65M129.5 144.25h1.65M145 164.75h1.65M140.5 136.75h1.65M136 163.75h1.65M161.5 152.75h1.65M153 139.75h1.65M156.5 118.75h1.65M170.5 146.75h1.65M155 142.75h1.65M147 166.75h1.65M155.5 158.75h1.65M153.5 134.25h1.65M163.5 134.25h1.65M142 126.25h1.65M145 145.25h1.65M155.5 160.25h1.65M167.5 132.25h1.65M162 168.25h1.65M165 124.25h1.65M145.5 125.75h1.65M152.5 132.75h1.65M143 151.25h1.65M162 123.25h1.65M155 169.25h1.65M158.5 160.75h1.65M125.5 118.75h1.65M168.5 146.25h1.65M166 161.75h1.65M152.5 152.25h1.65M153 114.75h1.65M156 138.25h1.65M135.5 120.75h1.65M157.5 154.75h1.65M157 156.25h1.65M158 168.75h1.65M135.5 129.75h1.65M157 150.75h1.65M145.5 137.75h1.65M137.5 149.25h1.65M154.5 121.25h1.65M151.5 152.25h1.65M160 156.75h1.65M177 123.25h1.65M161 166.25h1.65M150 123.75h1.65M156 157.75h1.65M148 129.75h1.65M151.5 111.75h1.65M155.5 127.25h1.65M153 113.25h1.65M152 112.75h1.65M153 113.75h1.65M156.5 113.75h1.65M153.5 107.25h1.65M151.5 116.25h1.65M154 118.75h1.65M148.5 109.25h1.65M150.5 111.75h1.65M154 112.75h1.65M158.5 109.25h1.65M160.5 113.25h1.65M159 113.25h1.65M150 109.25h1.65M153 113.75h1.65M153.5 109.25h1.65M162 115.25h1.65M154 112.75h1.65M152.5 114.25h1.65M157 114.75h1.65M155.5 120.25h1.65M151 113.75h1.65M152.5 111.75h1.65M152.5 111.75h1.65M152 112.75h1.65M148.5 118.25h1.65M149 110.75h1.65M154.5 111.75h1.65M151.5 116.25h1.65M158 113.75h1.65M165 113.25h1.65M160.5 111.25h1.65M148.5 112.25h1.65M156.5 114.75h1.65M157 113.25h1.65M155 112.75h1.65M148 113.75h1.65M147 117.25h1.65M148.5 113.75h1.65M143.5 108.25h1.65M159 115.75h1.65M149 110.75h1.65M155.5 105.75h1.65M157 112.25h1.65M154.5 108.25h1.65M100 147.75h1.65M121.5 144.25h1.65M107.5 113.25h1.65M92 151.25h1.65M101 118.75h1.65M102 152.75h1.65M137 135.25h1.65M93.5 121.75h1.65M92.5 134.25h1.65M79 145.75h1.65M95.5 141.25h1.65M95.5 132.25h1.65M74.5 117.25h1.65M108 127.75h1.65M138 136.75h1.65M101.5 127.75h1.65M87 160.25h1.65M60.5 133.75h1.65M107.5 130.75h1.65M113 143.75h1.65M98.5 139.25h1.65M102 165.75h1.65M128.5 155.25h1.65M109 149.25h1.65M86 129.75h1.65M72 114.75h1.65M109 129.75h1.65M122.5 115.75h1.65M88.5 133.75h1.65M141 151.25h1.65M123 131.75h1.65M93.5 132.25h1.65M125.5 150.75h1.65M146.5 163.75h1.65M79.5 132.75h1.65M111.5 144.25h1.65M110 105.25h1.65M102.5 158.25h1.65M79 121.75h1.65M127 165.75h1.65M79.5 152.25h1.65M112 123.75h1.65M80 132.25h1.65M141.5 123.25h1.65M97.5 109.25h1.65M122 122.75h1.65M117.5 167.75h1.65M138 127.25h1.65M117.5 141.75h1.65M103.5 130.75h1.65M152 121.25h1.65M70.5 143.25h1.65M125.5 129.25h1.65M112 137.25h1.65M75 123.75h1.65M99.5 129.75h1.65M146.5 141.75h1.65M107 140.75h1.65M134.5 119.75h1.65M154.5 105.25h1.65M101.5 128.25h1.65M67 152.75h1.65M109.5 152.25h1.65M97.5 104.75h1.65M132 143.75h1.65M120.5 134.25h1.65M56.5 138.25h1.65M142 138.75h1.65M70 134.75h1.65M146 158.25h1.65M83 144.25h1.65M116 119.25h1.65M129.5 164.75h1.65M134.5 131.75h1.65M147 169.25h1.65M117 151.25h1.65M96.5 159.75h1.65M127.5 121.75h1.65M92 158.75h1.65M109 139.25h1.65M89.5 119.75h1.65M159.5 150.25h1.65M107 158.25h1.65M123 149.25h1.65M90 144.75h1.65M105.5 114.75h1.65M57 147.75h1.65M65.5 145.25h1.65M68.5 131.75h1.65M113 131.25h1.65M141 144.25h1.65M105.5 135.25h1.65M93 125.25h1.65M67 163.75h1.65M121 125.75h1.65M131 136.75h1.65M65.5 154.25h1.65M110.5 119.25h1.65M60 150.25h1.65M150.5 151.25h1.65M118 104.75h1.65M121.5 113.75h1.65M85.5 140.25h1.65M75.5 131.25h1.65M75.5 104.75h1.65M94 141.25h1.65M98 131.75h1.65M98 136.25h1.65M83.5 154.75h1.65M100.5 133.75h1.65M115.5 154.75h1.65M97 149.75h1.65M100 125.75h1.65M144 158.25h1.65M93 126.75h1.65M92 160.75h1.65M95 134.25h1.65M110.5 167.25h1.65M72 129.25h1.65M109.5 127.25h1.65M104.5 118.75h1.65M88.5 124.75h1.65M116.5 148.25h1.65M96 116.75h1.65M109 161.25h1.65M91.5 105.25h1.65M132 126.25h1.65M129 140.75h1.65M102 125.25h1.65M116 151.75h1.65M125 111.25h1.65M110.5 148.75h1.65M107.5 133.75h1.65M128.5 154.75h1.65M116 127.25h1.65M102 133.25h1.65M143 146.25h1.65M92 118.75h1.65M109 149.75h1.65M135 142.25h1.65M72.5 109.75h1.65M121 152.75h1.65M93.5 159.25h1.65M99.5 130.75h1.65M86.5 115.75h1.65M78 120.75h1.65M123 138.75h1.65M114.5 127.75h1.65M99 123.25h1.65M118 144.75h1.65M110.5 164.75h1.65M135 112.25h1.65M118.5 148.25h1.65M83 141.25h1.65M132.5 116.25h1.65M97 134.25h1.65M88.5 130.75h1.65M74.5 131.25h1.65M93 161.25h1.65M171 118.25h1.65M104 119.75h1.65M103 135.25h1.65M96.5 164.75h1.65M107 146.25h1.65M82.5 142.25h1.65M99.5 116.75h1.65M129.5 149.25h1.65M60 119.75h1.65M87 142.75h1.65M84 164.25h1.65M109 140.75h1.65M84.5 121.75h1.65M75 127.75h1.65M111 150.75h1.65M90 133.75h1.65M88 126.75h1.65M82 129.25h1.65M109.5 144.75h1.65M76 138.25h1.65M101 141.75h1.65M138 157.25h1.65M96 155.25h1.65M114.5 122.25h1.65M151.5 159.75h1.65M119 132.75h1.65M105 145.75h1.65M124 131.75h1.65M100.5 158.75h1.65M94 160.25h1.65M126.5 125.75h1.65M53 159.75h1.65M111.5 115.75h1.65M131 122.75h1.65M83.5 154.75h1.65M81 149.75h1.65M95.5 112.75h1.65M50 108.75h1.65M131.5 127.25h1.65M78.5 168.25h1.65M119.5 134.25h1.65M106.5 146.25h1.65M111.5 137.75h1.65M114.5 112.25h1.65M124.5 114.25h1.65M75 118.75h1.65M93.5 134.75h1.65M94.5 165.25h1.65M98.5 107.25h1.65M124 104.25h1.65M126 110.75h1.65M64.5 150.25h1.65M148.5 107.25h1.65M107.5 129.25h1.65M105 141.25h1.65M87.5 143.75h1.65M87 128.75h1.65M125 149.75h1.65M131.5 114.75h1.65M108.5 151.75h1.65M111 151.25h1.65M71 137.25h1.65M69.5 149.25h1.65M145.5 160.75h1.65M123.5 126.25h1.65M86.5 138.25h1.65M68 135.25h1.65M112 127.25h1.65M98.5 161.25h1.65M91 145.75h1.65M104 110.75h1.65M103 141.75h1.65M135 148.75h1.65M130.5 143.25h1.65M117 147.75h1.65M139 153.75h1.65M107.5 140.25h1.65M137 134.75h1.65M104 120.25h1.65M103 168.25h1.65M138.5 137.25h1.65M123 153.25h1.65M100 150.25h1.65M101 137.75h1.65M111 108.25h1.65M123 159.25h1.65M85 147.75h1.65M89 111.25h1.65M83 138.25h1.65M93.5 124.75h1.65M103.5 166.25h1.65M96 114.75h1.65M91 169.25h1.65M109.5 124.25h1.65M99.5 133.25h1.65M145 142.75h1.65M126.5 112.75h1.65M140 109.75h1.65M145.5 116.75h1.65M121 103.75h1.65M102 135.25h1.65M130 128.75h1.65M139 124.25h1.65M73.5 154.75h1.65M107 128.75h1.65M118.5 123.75h1.65M139.5 141.75h1.65M122 149.75h1.65M103.5 140.75h1.65M79 107.75h1.65M107 116.25h1.65M116 142.25h1.65M85.5 158.25h1.65M54 163.25h1.65M103.5 154.25h1.65M137 142.25h1.65M71 117.25h1.65M90 122.25h1.65M129 152.25h1.65M70 145.75h1.65M133 161.25h1.65M92 105.25h1.65M106 167.75h1.65M74.5 142.25h1.65M118 142.75h1.65M125 128.25h1.65M112 129.25h1.65M82.5 166.75h1.65M66 133.25h1.65M88 105.75h1.65M68 137.75h1.65M120.5 158.25h1.65M100 166.25h1.65M62 130.25h1.65M76.5 126.75h1.65M92 159.25h1.65M118 104.75h1.65M83 145.25h1.65M58.5 115.25h1.65M63.5 143.75h1.65M89 164.75h1.65M132 160.75h1.65M95.5 130.75h1.65M60.5 155.25h1.65M128.5 139.25h1.65M92.5 118.75h1.65M97 119.25h1.65M71 146.25h1.65M102 116.75h1.65M125.5 128.75h1.65M73.5 124.75h1.65M81 152.25h1.65M58 146.25h1.65M88.5 157.25h1.65M117.5 133.25h1.65M73 129.75h1.65M127 157.75h1.65M74.5 146.25h1.65M70.5 121.75h1.65M65.5 163.75h1.65M125.5 168.25h1.65M52 109.75h1.65M137.5 120.75h1.65M137 166.25h1.65M99.5 117.75h1.65M107 143.25h1.65M123 146.75h1.65M109.5 124.75h1.65M76 131.75h1.65M136.5 126.25h1.65M94.5 119.25h1.65M101.5 135.25h1.65M113.5 143.75h1.65M107.5 153.75h1.65M133 129.75h1.65M111 152.25h1.65M135 148.25h1.65M96.5 142.25h1.65M75.5 159.75h1.65M112.5 123.25h1.65M126 114.25h1.65M83 115.75h1.65M62 165.75h1.65M93 147.75h1.65M136.5 137.75h1.65M85 132.75h1.65M122 121.75h1.65M76 159.25h1.65M56.5 125.25h1.65M112 123.75h1.65M130 111.25h1.65M88.5 109.75h1.65M60 128.75h1.65M109 162.75h1.65M92.5 120.75h1.65M96 134.25h1.65M72 133.75h1.65M137 114.75h1.65M119.5 142.75h1.65M68 134.25h1.65M136.5 162.75h1.65M135.5 146.25h1.65M107 112.25h1.65M111 154.25h1.65M89 159.75h1.65M135.5 149.75h1.65M116 158.25h1.65M202.5 140.75h1.65M186 157.25h1.65M202.5 126.25h1.65M181.5 108.75h1.65M191 73.75h1.65M186 125.75h1.65M188.5 109.25h1.65M202 106.25h1.65M195.5 124.25h1.65M200.5 165.75h1.65M186.5 116.75h1.65M197 105.75h1.65M194.5 134.75h1.65M200.5 145.75h1.65M192.5 158.25h1.65M188.5 155.25h1.65M183.5 155.75h1.65M200 116.75h1.65M194 124.25h1.65M189.5 150.75h1.65M198 168.25h1.65M198.5 79.25h1.65M203 103.25h1.65M192.5 158.25h1.65M191 143.75h1.65M189.5 154.25h1.65M186.5 86.75h1.65M193.5 155.25h1.65M184 67.25h1.65M184 68.25h1.65M187 95.25h1.65M200.5 138.25h1.65M71 155.75h1.65M60 100.25h1.65M56 139.75h1.65M51.5 165.75h1.65M69.5 72.75h1.65M62 88.75h1.65M53 165.75h1.65M57.5 130.25h1.65M68 126.75h1.65M57 77.75h1.65M54 136.25h1.65M56.5 168.75h1.65M70 110.25h1.65M58.5 113.75h1.65M51 105.75h1.65M64.5 65.75h1.65M66.5 98.75h1.65M50.5 71.25h1.65M65 101.75h1.65M64.5 160.25h1.65M59 116.25h1.65M69.5 127.75h1.65M67 83.75h1.65M63 63.25h1.65M53 112.75h1.65M67.5 152.25h1.65M54.5 139.25h1.65M62.5 159.75h1.65M140.5 59.75h1.65M138.5 54.75h1.65M141 60.25h1.65M132.5 53.25h1.65M141 57.25h1.65M136 62.75h1.65M128 56.25h1.65M157.5 50.75h1.65M135.5 55.75h1.65M137 56.25h1.65" stroke="#181818" stroke-width="1.65" fill="none" opacity="1"/>
<path d="M91 80L92 73L97 67L106 64.3L118 63.5L136 63.5L146 65L153 69L158 76L160 85L159.5 95L156 100.5L151 101.5L146 98L142 92L137 88L130 86.5L123 88.5L115 91L105 92.3L96.5 90.5L92 86Z" fill="#303030" stroke="#303030" stroke-width="2" stroke-linejoin="round"/>
<path d="M135.31 64.9h1.2M94 73.31h1.2M137.54 71.84h1.2M127.39 67.71h1.2M121.49 66.27h1.2M124.22 80.71h1.2M95.05 70.25h1.2M97.23 83.99h1.2M145.28 90.8h1.2M132.81 84.75h1.2M96.88 88.62h1.2M153.82 75.36h1.2M102.76 72.83h1.2M100.39 67.24h1.2M128.3 78.26h1.2M111 72.21h1.2M102.27 91.38h1.2M111.46 87.23h1.2M144.14 81.3h1.2M105.74 65.6h1.2M124.51 83.73h1.2M139.19 85.79h1.2M99.95 69.69h1.2M101.31 88.87h1.2M115.18 68.12h1.2M98.58 68.48h1.2M149.39 74.13h1.2M116.89 69.73h1.2M94.37 70.68h1.2M135.72 80.76h1.2M146.49 73.76h1.2M153.39 74.73h1.2M133.28 76.94h1.2M115.24 65.46h1.2M102.09 76.73h1.2M150.76 97.33h1.2M140.94 65.42h1.2M117.84 87.12h1.2M95.31 73.03h1.2M150.29 86.71h1.2M136.19 64.02h1.2M116.54 75.58h1.2M121.49 83.18h1.2M146.09 91.6h1.2M108.15 86.2h1.2M116.68 76.24h1.2M135.34 85.71h1.2M102.66 81.32h1.2M136.01 79.05h1.2M150.49 82.94h1.2M136.82 81.2h1.2M130.78 66.02h1.2" stroke="#dcdcdc" stroke-width="1.2" fill="none" opacity="1"/>
<path d="M72.5 62.5H179V168H133.8V108.8M72.5 62.5V108.8H179" stroke="#111" stroke-width="1.35" fill="none"/>
<text x="75.6" y="75.4" font-size="14" text-anchor="start" font-weight="normal" fill="#111" stroke="#111" stroke-width="0.25" >3</text>
<text x="169.6" y="75.6" font-size="14" text-anchor="start" font-weight="normal" fill="#111" stroke="#111" stroke-width="0.25" >2</text>
<text x="170.3" y="166.8" font-size="14.5" text-anchor="start" font-weight="normal" fill="#111" stroke="#111" stroke-width="0.25" >1</text>
<rect x="49" y="44.5" width="156" height="126" fill="none" stroke="#111" stroke-width="1.5"/>
<path d="M49 170.5v5.8M60.74 170.5v3.4M67.61 170.5v3.4M72.48 170.5v3.4M76.26 170.5v3.4M79.35 170.5v3.4M81.96 170.5v3.4M84.22 170.5v3.4M86.22 170.5v3.4M88 170.5v5.8M99.74 170.5v3.4M106.61 170.5v3.4M111.48 170.5v3.4M115.26 170.5v3.4M118.35 170.5v3.4M120.96 170.5v3.4M123.22 170.5v3.4M125.22 170.5v3.4M127 170.5v5.8M138.74 170.5v3.4M145.61 170.5v3.4M150.48 170.5v3.4M154.26 170.5v3.4M157.35 170.5v3.4M159.96 170.5v3.4M162.22 170.5v3.4M164.22 170.5v3.4M166 170.5v5.8M177.74 170.5v3.4M184.61 170.5v3.4M189.48 170.5v3.4M193.26 170.5v3.4M196.35 170.5v3.4M198.96 170.5v3.4M201.22 170.5v3.4M203.22 170.5v3.4M205 170.5v5.8" stroke="#111" stroke-width="1.2" fill="none"/>
<path d="M49 170.5h-5.8M49 161.02h-3.4M49 155.47h-3.4M49 151.54h-3.4M49 148.48h-3.4M49 145.99h-3.4M49 143.88h-3.4M49 142.05h-3.4M49 140.44h-3.4M49 139h-5.8M49 129.52h-3.4M49 123.97h-3.4M49 120.04h-3.4M49 116.98h-3.4M49 114.49h-3.4M49 112.38h-3.4M49 110.55h-3.4M49 108.94h-3.4M49 107.5h-5.8M49 98.02h-3.4M49 92.47h-3.4M49 88.54h-3.4M49 85.48h-3.4M49 82.99h-3.4M49 80.88h-3.4M49 79.05h-3.4M49 77.44h-3.4M49 76h-5.8M49 66.52h-3.4M49 60.97h-3.4M49 57.04h-3.4M49 53.98h-3.4M49 51.49h-3.4M49 49.38h-3.4M49 47.55h-3.4M49 45.94h-3.4M49 44.5h-5.8" stroke="#111" stroke-width="1.2" fill="none"/>
<g transform="translate(42.1 189.6) scale(0.82 1)"><text x="0" y="0" font-size="12.2" fill="#111" stroke="#111" stroke-width="0.3">10</text></g>
<g transform="translate(52.2 183.2) scale(0.92 1)"><text x="0" y="0" font-size="12.2" fill="#111" stroke="#111" stroke-width="0.3">0</text></g>
<g transform="translate(81.1 189.6) scale(0.82 1)"><text x="0" y="0" font-size="12.2" fill="#111" stroke="#111" stroke-width="0.3">10</text></g>
<g transform="translate(91.2 183.2) scale(0.92 1)"><text x="0" y="0" font-size="12.2" fill="#111" stroke="#111" stroke-width="0.3">1</text></g>
<g transform="translate(120.1 189.6) scale(0.82 1)"><text x="0" y="0" font-size="12.2" fill="#111" stroke="#111" stroke-width="0.3">10</text></g>
<g transform="translate(130.2 183.2) scale(0.92 1)"><text x="0" y="0" font-size="12.2" fill="#111" stroke="#111" stroke-width="0.3">2</text></g>
<g transform="translate(159.1 189.6) scale(0.82 1)"><text x="0" y="0" font-size="12.2" fill="#111" stroke="#111" stroke-width="0.3">10</text></g>
<g transform="translate(169.2 183.2) scale(0.92 1)"><text x="0" y="0" font-size="12.2" fill="#111" stroke="#111" stroke-width="0.3">3</text></g>
<g transform="translate(198.1 189.6) scale(0.82 1)"><text x="0" y="0" font-size="12.2" fill="#111" stroke="#111" stroke-width="0.3">10</text></g>
<g transform="translate(208.2 183.2) scale(0.92 1)"><text x="0" y="0" font-size="12.2" fill="#111" stroke="#111" stroke-width="0.3">4</text></g>
<g transform="translate(38.9 178.3) rotate(-90) scale(0.82 1)"><text x="0" y="0" font-size="12.2" fill="#111" stroke="#111" stroke-width="0.3">10</text></g>
<g transform="translate(31.7 166.2) rotate(-90) scale(0.92 1)"><text x="0" y="0" font-size="12.2" fill="#111" stroke="#111" stroke-width="0.3">0</text></g>
<g transform="translate(38.9 146.8) rotate(-90) scale(0.82 1)"><text x="0" y="0" font-size="12.2" fill="#111" stroke="#111" stroke-width="0.3">10</text></g>
<g transform="translate(31.7 134.7) rotate(-90) scale(0.92 1)"><text x="0" y="0" font-size="12.2" fill="#111" stroke="#111" stroke-width="0.3">1</text></g>
<g transform="translate(38.9 115.3) rotate(-90) scale(0.82 1)"><text x="0" y="0" font-size="12.2" fill="#111" stroke="#111" stroke-width="0.3">10</text></g>
<g transform="translate(31.7 103.2) rotate(-90) scale(0.92 1)"><text x="0" y="0" font-size="12.2" fill="#111" stroke="#111" stroke-width="0.3">2</text></g>
<g transform="translate(38.9 83.8) rotate(-90) scale(0.82 1)"><text x="0" y="0" font-size="12.2" fill="#111" stroke="#111" stroke-width="0.3">10</text></g>
<g transform="translate(31.7 71.7) rotate(-90) scale(0.92 1)"><text x="0" y="0" font-size="12.2" fill="#111" stroke="#111" stroke-width="0.3">3</text></g>
<g transform="translate(38.9 52.3) rotate(-90) scale(0.82 1)"><text x="0" y="0" font-size="12.2" fill="#111" stroke="#111" stroke-width="0.3">10</text></g>
<g transform="translate(31.7 40.2) rotate(-90) scale(0.92 1)"><text x="0" y="0" font-size="12.2" fill="#111" stroke="#111" stroke-width="0.3">4</text></g>
<g transform="translate(13.4 113.8) rotate(-90)"><text x="0" y="0" font-size="15.6" fill="#111" stroke="#111" stroke-width="0.25">IgD</text></g>
<text x="126.2" y="207.8" font-size="15.6" text-anchor="middle" font-weight="normal" fill="#111" stroke="#111" stroke-width="0.25" >IgM</text>
<path d="M47.5 327.03L48.6 327.03L48.6 326.6L49.7 326.6L49.7 325.31L50.8 325.31L50.8 324.75L51.9 324.75L51.9 323.82L53 323.82L53 321.21L54.1 321.21L54.1 319.45L55.2 319.45L55.2 319.28L56.3 319.28L56.3 316.58L57.4 316.58L57.4 314.89L58.5 314.89L58.5 314.84L59.6 314.84L59.6 312.46L60.7 312.46L60.7 310.88L61.8 310.88L61.8 310.09L62.9 310.09L62.9 313.54L64 313.54L64 316.22L65.1 316.22L65.1 321.21L66.2 321.21L66.2 325.88L67.3 325.88L67.3 329.5L68.4 329.5L68.4 333.66L69.5 333.66L69.5 337.04L70.6 337.04L70.6 339.44L71.7 339.44L71.7 343.91L72.8 343.91L72.8 346.57L73.9 346.57L73.9 348.81L75 348.81L75 348.43L76.1 348.43L76.1 348.93L77.2 348.93L77.2 348.61L78.3 348.61L78.3 349.54L79.4 349.54L79.4 350.4L80.5 350.4L80.5 350.74L81.6 350.74L81.6 351.05L82.7 351.05L82.7 350.78L83.8 350.78L83.8 351.25L84.9 351.25L84.9 351.11L86 351.11L86 351.65L87.1 351.65L87.1 351.75L88.2 351.75L88.2 351.27L89.3 351.27L89.3 351.45L90.4 351.45L90.4 351.66L91.5 351.66L91.5 352.41L92.6 352.41L92.6 352.13L93.7 352.13L93.7 352.43L94.8 352.43L94.8 352.31L95.9 352.31L95.9 353.18L97 353.18L97 353.91L97 354.2L47.5 354.2Z" stroke="#242424" stroke-width="1.1" fill="#6e6e6e" stroke-linejoin="miter"/>
<path d="M48 351.45L49.1 351.45L49.1 351.21L50.2 351.21L50.2 351.21L51.3 351.21L51.3 350.89L52.4 350.89L52.4 351.11L53.5 351.11L53.5 350.87L54.6 350.87L54.6 350.94L55.7 350.94L55.7 350.8L56.8 350.8L56.8 351.12L57.9 351.12L57.9 351.62L59 351.62L59 350.92L60.1 350.92L60.1 350.81L61.2 350.81L61.2 350.86L62.3 350.86L62.3 351.18L63.4 351.18L63.4 351.02L64.5 351.02L64.5 351.5L65.6 351.5L65.6 350.84L66.7 350.84L66.7 351.05L67.8 351.05L67.8 351.27L68.9 351.27L68.9 351.36L70 351.36L70 350.33L71.1 350.33L71.1 349.77L72.2 349.77L72.2 349.87L73.3 349.87L73.3 347.73L74.4 347.73L74.4 345.67L75.5 345.67L75.5 342.51L76.6 342.51L76.6 336.35L77.7 336.35L77.7 327.29L78.8 327.29L78.8 320.19L79.9 320.19L79.9 309.86L81 309.86L81 296.78L82.1 296.78L82.1 286.36L83.2 286.36L83.2 276.8L84.3 276.8L84.3 271.81L85.4 271.81L85.4 272.58L86.5 272.58L86.5 277.3L87.6 277.3L87.6 286.46L88.7 286.46L88.7 297.15L89.8 297.15L89.8 307.54L90.9 307.54L90.9 319.17L92 319.17L92 328.4L93.1 328.4L93.1 331.79L94.2 331.79L94.2 338.25L95.3 338.25L95.3 343.72L96.4 343.72L96.4 347.1L97.5 347.1L97.5 347.91L98.6 347.91L98.6 350L99.7 350L99.7 349.78L100.8 349.78L100.8 350.31L101.9 350.31L101.9 351.34L103 351.34L103 351.38L104.1 351.38L104.1 351.38L105.2 351.38L105.2 351.26L106.3 351.26L106.3 351.38L107.4 351.38L107.4 351.47L108.5 351.47L108.5 351.4L109.6 351.4L109.6 350.94L110.7 350.94L110.7 351.6L111.8 351.6L111.8 351.72L112.9 351.72L112.9 351.3L114 351.3L114 352.03L115.1 352.03L115.1 351.94L116.2 351.94L116.2 350.92L117.3 350.92L117.3 353.21L118.4 353.21L118.4 353.2L119.5 353.2L119.5 353.39L120.6 353.39L120.6 353.25L121.7 353.25L121.7 353.19L122.8 353.19L122.8 353.39L123.9 353.39L123.9 353.18L125 353.18L125 353.18L126.1 353.18L126.1 351.18L127.2 351.18L127.2 350.98L128.3 350.98L128.3 353.24L129.4 353.24L129.4 353.16L130.5 353.16L130.5 353.28L131.6 353.28L131.6 353.15L132.7 353.15L132.7 353.14L133.8 353.14L133.8 353.39L134.9 353.39L134.9 353.38L136 353.38L136 353.16L137.1 353.16L137.1 353.06L138.2 353.06L138.2 353.31L139.3 353.31L139.3 353.24L140.4 353.24L140.4 353.19L141.5 353.19L141.5 353.29L142.6 353.29L142.6 353.27L143.7 353.27L143.7 353.29L144.8 353.29L144.8 353.27L145.9 353.27L145.9 353.19L147 353.19L147 353.29L148.1 353.29L148.1 353.27L149.2 353.27L149.2 353.13L150.3 353.13L150.3 353.39L151.4 353.39L151.4 353.2L152.5 353.2L152.5 353.14L153.6 353.14L153.6 353.29L154.7 353.29L154.7 353.32L155.8 353.32L155.8 353.12L156.9 353.12L156.9 353.32L158 353.32L158 353.33L159.1 353.33L159.1 353.25L160.2 353.25L160.2 353.16L161.3 353.16L161.3 353.36L162.4 353.36L162.4 353.29L163.5 353.29L163.5 353.28L164.6 353.28L164.6 353.11L165.7 353.11L165.7 353.25L166.8 353.25L166.8 353.1L167.9 353.1L167.9 353.34L169 353.34L169 353.28L170.1 353.28L170.1 353.17L171.2 353.17L171.2 353.09L172.3 353.09L172.3 353.24L173.4 353.24L173.4 353.32L174.5 353.32L174.5 353.36L175.6 353.36L175.6 353.21L176.7 353.21L176.7 353.33" stroke="#0c0c0c" stroke-width="2.1" fill="none" stroke-linejoin="miter"/>
<path d="M46.5 257H178.7V355.2" stroke="#111" stroke-width="1.4" fill="none"/>
<path d="M46.5 256.3V355.2H179.4" stroke="#0c0c0c" stroke-width="2" fill="none"/>
<path d="M47.1 292V355.2" stroke="#0c0c0c" stroke-width="3" fill="none"/>
<path d="M46 355.2h-5.6M46 351.11h-4.4M46 347.02h-4.4M46 342.93h-4.4M46 338.84h-4.4M46 334.75h-5.6M46 330.66h-4.4M46 326.57h-4.4M46 322.48h-4.4M46 318.39h-4.4M46 314.3h-5.6M46 310.21h-4.4M46 306.12h-4.4M46 302.03h-4.4M46 297.94h-4.4M46 293.85h-5.6M46 289.76h-4.4M46 285.67h-4.4M46 281.58h-4.4M46 277.49h-4.4M46 273.4h-5.6M46 269.31h-4.4M46 265.22h-4.4M46 261.13h-4.4M46 257.04h-4.4" stroke="#111" stroke-width="1.5" fill="none"/>
<path d="M46.5 355.7v5.5M56.45 355.7v3.2M62.27 355.7v3.2M66.4 355.7v3.2M69.6 355.7v3.2M72.22 355.7v3.2M74.43 355.7v3.2M76.35 355.7v3.2M78.04 355.7v3.2M79.55 355.7v5.5M89.5 355.7v3.2M95.32 355.7v3.2M99.45 355.7v3.2M102.65 355.7v3.2M105.27 355.7v3.2M107.48 355.7v3.2M109.4 355.7v3.2M111.09 355.7v3.2M112.6 355.7v5.5M122.55 355.7v3.2M128.37 355.7v3.2M132.5 355.7v3.2M135.7 355.7v3.2M138.32 355.7v3.2M140.53 355.7v3.2M142.45 355.7v3.2M144.14 355.7v3.2M145.65 355.7v5.5M155.6 355.7v3.2M161.42 355.7v3.2M165.55 355.7v3.2M168.75 355.7v3.2M171.37 355.7v3.2M173.58 355.7v3.2M175.5 355.7v3.2M177.19 355.7v3.2M178.7 355.7v5.5" stroke="#111" stroke-width="1.2" fill="none"/>
<g transform="translate(38.9 375.5) scale(0.82 1)"><text x="0" y="0" font-size="12.2" fill="#111" stroke="#111" stroke-width="0.3">10</text></g>
<g transform="translate(49.9 369.4) scale(0.92 1)"><text x="0" y="0" font-size="12.2" fill="#111" stroke="#111" stroke-width="0.3">0</text></g>
<g transform="translate(71.95 375.5) scale(0.82 1)"><text x="0" y="0" font-size="12.2" fill="#111" stroke="#111" stroke-width="0.3">10</text></g>
<g transform="translate(82.95 369.4) scale(0.92 1)"><text x="0" y="0" font-size="12.2" fill="#111" stroke="#111" stroke-width="0.3">1</text></g>
<g transform="translate(105 375.5) scale(0.82 1)"><text x="0" y="0" font-size="12.2" fill="#111" stroke="#111" stroke-width="0.3">10</text></g>
<g transform="translate(116 369.4) scale(0.92 1)"><text x="0" y="0" font-size="12.2" fill="#111" stroke="#111" stroke-width="0.3">2</text></g>
<g transform="translate(138.05 375.5) scale(0.82 1)"><text x="0" y="0" font-size="12.2" fill="#111" stroke="#111" stroke-width="0.3">10</text></g>
<g transform="translate(149.05 369.4) scale(0.92 1)"><text x="0" y="0" font-size="12.2" fill="#111" stroke="#111" stroke-width="0.3">3</text></g>
<g transform="translate(171.1 375.5) scale(0.82 1)"><text x="0" y="0" font-size="12.2" fill="#111" stroke="#111" stroke-width="0.3">10</text></g>
<g transform="translate(182.1 369.4) scale(0.92 1)"><text x="0" y="0" font-size="12.2" fill="#111" stroke="#111" stroke-width="0.3">4</text></g>
<g transform="translate(46.4 250.7) scale(1.13 1)"><text x="0" y="0" font-size="13.8" fill="#111" stroke="#111" stroke-width="0.25">sIgM<tspan dy="-4.8" font-size="9.8">+</tspan><tspan dy="4.8">sIgD</tspan><tspan dy="-4.8" font-size="9.8">-</tspan></text></g>
<text x="52.6" y="272.8" font-size="13.8" text-anchor="start" font-weight="normal" fill="#111" stroke="#111" stroke-width="0.25"  textLength="8.6" lengthAdjust="spacingAndGlyphs">1</text>
<text x="138.2" y="272.4" font-size="15.2" text-anchor="start" font-weight="normal" fill="#111" stroke="#111" stroke-width="0.25"  textLength="37.2" lengthAdjust="spacingAndGlyphs">13.24</text>
<path d="M213 325.05L214.1 325.05L214.1 325.8L215.2 325.8L215.2 325.31L216.3 325.31L216.3 324.56L217.4 324.56L217.4 324.25L218.5 324.25L218.5 322.96L219.6 322.96L219.6 322.61L220.7 322.61L220.7 321.13L221.8 321.13L221.8 320.71L222.9 320.71L222.9 322.03L224 322.03L224 321.36L225.1 321.36L225.1 320.39L226.2 320.39L226.2 321.46L227.3 321.46L227.3 320.12L228.4 320.12L228.4 320.76L229.5 320.76L229.5 321.84L230.6 321.84L230.6 324.12L231.7 324.12L231.7 326.74L232.8 326.74L232.8 330.45L233.9 330.45L233.9 335.86L235 335.86L235 339.47L236.1 339.47L236.1 343.2L237.2 343.2L237.2 345.74L238.3 345.74L238.3 348.82L239.4 348.82L239.4 350.07L240.5 350.07L240.5 350.78L241.6 350.78L241.6 351.47L242.7 351.47L242.7 351.82L243.8 351.82L243.8 351.96L244.9 351.96L244.9 352.12L246 352.12L246 352.21L247.1 352.21L247.1 352.97L247.1 354.2L213 354.2Z" stroke="#242424" stroke-width="1.1" fill="#6e6e6e" stroke-linejoin="miter"/>
<path d="M213.7 351.57L214.8 351.57L214.8 351.73L215.9 351.73L215.9 351.21L217 351.21L217 351.51L218.1 351.51L218.1 350.99L219.2 350.99L219.2 351.75L220.3 351.75L220.3 350.89L221.4 350.89L221.4 351.1L222.5 351.1L222.5 350.86L223.6 350.86L223.6 350.88L224.7 350.88L224.7 350.87L225.8 350.87L225.8 351.19L226.9 351.19L226.9 351.74L228 351.74L228 350.99L229.1 350.99L229.1 351.55L230.2 351.55L230.2 351.39L231.3 351.39L231.3 350.99L232.4 350.99L232.4 351.08L233.5 351.08L233.5 351.12L234.6 351.12L234.6 350.48L235.7 350.48L235.7 350.61L236.8 350.61L236.8 350.51L237.9 350.51L237.9 349.82L239 349.82L239 347.81L240.1 347.81L240.1 345.34L241.2 345.34L241.2 339.5L242.3 339.5L242.3 331.5L243.4 331.5L243.4 322.91L244.5 322.91L244.5 308.06L245.6 308.06L245.6 292.36L246.7 292.36L246.7 280.16L247.8 280.16L247.8 270L248.9 270L248.9 269.57L250 269.57L250 275.95L251.1 275.95L251.1 282.78L252.2 282.78L252.2 292.69L253.3 292.69L253.3 305.29L254.4 305.29L254.4 316.13L255.5 316.13L255.5 326.12L256.6 326.12L256.6 329.75L257.7 329.75L257.7 337.2L258.8 337.2L258.8 342.34L259.9 342.34L259.9 345.42L261 345.42L261 348.86L262.1 348.86L262.1 350.18L263.2 350.18L263.2 350.9L264.3 350.9L264.3 351.4L265.4 351.4L265.4 351.77L266.5 351.77L266.5 350.58L267.6 350.58L267.6 350.87L268.7 350.87L268.7 352.09L269.8 352.09L269.8 351.51L270.9 351.51L270.9 351.83L272 351.83L272 351.86L273.1 351.86L273.1 351.82L274.2 351.82L274.2 351.39L275.3 351.39L275.3 351.49L276.4 351.49L276.4 351.84L277.5 351.84L277.5 352.1L278.6 352.1L278.6 351.89L279.7 351.89L279.7 352.2L280.8 352.2L280.8 353.2L281.9 353.2L281.9 353.14L283 353.14L283 353.26L284.1 353.26L284.1 353.37L285.2 353.37L285.2 353.34L286.3 353.34L286.3 353.27L287.4 353.27L287.4 353.19L288.5 353.19L288.5 353.13L289.6 353.13L289.6 353.27L290.7 353.27L290.7 353.12L291.8 353.12L291.8 353.18L292.9 353.18L292.9 353.25L294 353.25L294 353.27L295.1 353.27L295.1 353.23L296.2 353.23L296.2 353.15L297.3 353.15L297.3 353.25L298.4 353.25L298.4 353.16L299.5 353.16L299.5 353.24L300.6 353.24L300.6 353.31L301.7 353.31L301.7 353.21L302.8 353.21L302.8 353.16L303.9 353.16L303.9 353.37L305 353.37L305 353.25L306.1 353.25L306.1 353.25L307.2 353.25L307.2 353.09L308.3 353.09L308.3 353.07L309.4 353.07L309.4 353.27L310.5 353.27L310.5 353.09L311.6 353.09L311.6 353.12L312.7 353.12L312.7 353.31L313.8 353.31L313.8 353.24L314.9 353.24L314.9 353.36L316 353.36L316 353.12L317.1 353.12L317.1 353.17L318.2 353.17L318.2 353.09L319.3 353.09L319.3 353.12L320.4 353.12L320.4 353.17L321.5 353.17L321.5 353.14L322.6 353.14L322.6 353.2L323.7 353.2L323.7 353.36L324.8 353.36L324.8 353.19L325.9 353.19L325.9 353.4L327 353.4L327 353.35L328.1 353.35L328.1 353.13L329.2 353.13L329.2 353.38L330.3 353.38L330.3 353.37L331.4 353.37L331.4 353.37L332.5 353.37L332.5 353.09L333.6 353.09L333.6 353.34L334.7 353.34L334.7 353.39L335.8 353.39L335.8 353.11L336.9 353.11L336.9 353.36L338 353.36L338 353.1L339.1 353.1L339.1 353.16L340.2 353.16L340.2 353.11L341.3 353.11L341.3 353.07" stroke="#0c0c0c" stroke-width="2.1" fill="none" stroke-linejoin="miter"/>
<path d="M212.2 257H343.4V355.2" stroke="#111" stroke-width="1.4" fill="none"/>
<path d="M212.2 256.3V355.2H344.1" stroke="#0c0c0c" stroke-width="2" fill="none"/>
<path d="M212.8 295V355.2" stroke="#0c0c0c" stroke-width="3" fill="none"/>
<path d="M211.7 355.2h-5.6M211.7 351.11h-4.4M211.7 347.02h-4.4M211.7 342.93h-4.4M211.7 338.84h-4.4M211.7 334.75h-5.6M211.7 330.66h-4.4M211.7 326.57h-4.4M211.7 322.48h-4.4M211.7 318.39h-4.4M211.7 314.3h-5.6M211.7 310.21h-4.4M211.7 306.12h-4.4M211.7 302.03h-4.4M211.7 297.94h-4.4M211.7 293.85h-5.6M211.7 289.76h-4.4M211.7 285.67h-4.4M211.7 281.58h-4.4M211.7 277.49h-4.4M211.7 273.4h-5.6M211.7 269.31h-4.4M211.7 265.22h-4.4M211.7 261.13h-4.4M211.7 257.04h-4.4" stroke="#111" stroke-width="1.5" fill="none"/>
<path d="M212.2 355.7v5.5M222.07 355.7v3.2M227.85 355.7v3.2M231.95 355.7v3.2M235.13 355.7v3.2M237.72 355.7v3.2M239.92 355.7v3.2M241.82 355.7v3.2M243.5 355.7v3.2M245 355.7v5.5M254.87 355.7v3.2M260.65 355.7v3.2M264.75 355.7v3.2M267.93 355.7v3.2M270.52 355.7v3.2M272.72 355.7v3.2M274.62 355.7v3.2M276.3 355.7v3.2M277.8 355.7v5.5M287.67 355.7v3.2M293.45 355.7v3.2M297.55 355.7v3.2M300.73 355.7v3.2M303.32 355.7v3.2M305.52 355.7v3.2M307.42 355.7v3.2M309.1 355.7v3.2M310.6 355.7v5.5M320.47 355.7v3.2M326.25 355.7v3.2M330.35 355.7v3.2M333.53 355.7v3.2M336.12 355.7v3.2M338.32 355.7v3.2M340.22 355.7v3.2M341.9 355.7v3.2M343.4 355.7v5.5" stroke="#111" stroke-width="1.2" fill="none"/>
<g transform="translate(204.6 375.5) scale(0.82 1)"><text x="0" y="0" font-size="12.2" fill="#111" stroke="#111" stroke-width="0.3">10</text></g>
<g transform="translate(215.6 369.4) scale(0.92 1)"><text x="0" y="0" font-size="12.2" fill="#111" stroke="#111" stroke-width="0.3">0</text></g>
<g transform="translate(237.4 375.5) scale(0.82 1)"><text x="0" y="0" font-size="12.2" fill="#111" stroke="#111" stroke-width="0.3">10</text></g>
<g transform="translate(248.4 369.4) scale(0.92 1)"><text x="0" y="0" font-size="12.2" fill="#111" stroke="#111" stroke-width="0.3">1</text></g>
<g transform="translate(270.2 375.5) scale(0.82 1)"><text x="0" y="0" font-size="12.2" fill="#111" stroke="#111" stroke-width="0.3">10</text></g>
<g transform="translate(281.2 369.4) scale(0.92 1)"><text x="0" y="0" font-size="12.2" fill="#111" stroke="#111" stroke-width="0.3">2</text></g>
<g transform="translate(303 375.5) scale(0.82 1)"><text x="0" y="0" font-size="12.2" fill="#111" stroke="#111" stroke-width="0.3">10</text></g>
<g transform="translate(314 369.4) scale(0.92 1)"><text x="0" y="0" font-size="12.2" fill="#111" stroke="#111" stroke-width="0.3">3</text></g>
<g transform="translate(335.8 375.5) scale(0.82 1)"><text x="0" y="0" font-size="12.2" fill="#111" stroke="#111" stroke-width="0.3">10</text></g>
<g transform="translate(346.8 369.4) scale(0.92 1)"><text x="0" y="0" font-size="12.2" fill="#111" stroke="#111" stroke-width="0.3">4</text></g>
<g transform="translate(214.3 250.7) scale(1.13 1)"><text x="0" y="0" font-size="13.8" fill="#111" stroke="#111" stroke-width="0.25">sIgM<tspan dy="-4.8" font-size="9.8">+</tspan><tspan dy="4.8">sIgD</tspan><tspan dy="-4.8" font-size="9.8">+</tspan></text></g>
<text x="218" y="271.8" font-size="13.8" text-anchor="start" font-weight="normal" fill="#111" stroke="#111" stroke-width="0.25"  textLength="8.6" lengthAdjust="spacingAndGlyphs">2</text>
<text x="303.2" y="272.4" font-size="15.2" text-anchor="start" font-weight="normal" fill="#111" stroke="#111" stroke-width="0.25"  textLength="37.6" lengthAdjust="spacingAndGlyphs">13.02</text>
<path d="M378.8 326.14L379.9 326.14L379.9 324.31L381 324.31L381 320.71L382.1 320.71L382.1 319.8L383.2 319.8L383.2 317.26L384.3 317.26L384.3 316.17L385.4 316.17L385.4 313.62L386.5 313.62L386.5 313.25L387.6 313.25L387.6 311.45L388.7 311.45L388.7 310.3L389.8 310.3L389.8 314.68L390.9 314.68L390.9 319.47L392 319.47L392 323.83L393.1 323.83L393.1 326.65L394.2 326.65L394.2 330.42L395.3 330.42L395.3 334.32L396.4 334.32L396.4 338.75L397.5 338.75L397.5 342.77L398.6 342.77L398.6 344.96L399.7 344.96L399.7 347.44L400.8 347.44L400.8 349.96L401.9 349.96L401.9 350.64L403 350.64L403 351.01L404.1 351.01L404.1 351.05L405.2 351.05L405.2 351.7L406.3 351.7L406.3 352.39L407.4 352.39L407.4 352.26L408.5 352.26L408.5 353.07L409.6 353.07L409.6 353.43L409.6 354.2L378.8 354.2Z" stroke="#242424" stroke-width="1.1" fill="#6e6e6e" stroke-linejoin="miter"/>
<path d="M379.3 351.11L380.4 351.11L380.4 351.04L381.5 351.04L381.5 351.12L382.6 351.12L382.6 351.28L383.7 351.28L383.7 351.31L384.8 351.31L384.8 351.15L385.9 351.15L385.9 350.89L387 350.89L387 351.64L388.1 351.64L388.1 351.69L389.2 351.69L389.2 351.03L390.3 351.03L390.3 350.85L391.4 350.85L391.4 351.24L392.5 351.24L392.5 351.3L393.6 351.3L393.6 351.01L394.7 351.01L394.7 351.51L395.8 351.51L395.8 351.4L396.9 351.4L396.9 351.42L398 351.42L398 350.95L399.1 350.95L399.1 351.1L400.2 351.1L400.2 350.95L401.3 350.95L401.3 350.03L402.4 350.03L402.4 348.87L403.5 348.87L403.5 347.79L404.6 347.79L404.6 344.47L405.7 344.47L405.7 339.57L406.8 339.57L406.8 330.61L407.9 330.61L407.9 322.43L409 322.43L409 308.85L410.1 308.85L410.1 292.98L411.2 292.98L411.2 277.61L412.3 277.61L412.3 264.35L413.4 264.35L413.4 258.87L414.5 258.87L414.5 258.56L415.6 258.56L415.6 264.06L416.7 264.06L416.7 276.94L417.8 276.94L417.8 290.48L418.9 290.48L418.9 306.52L420 306.52L420 320.09L421.1 320.09L421.1 327.15L422.2 327.15L422.2 335.74L423.3 335.74L423.3 341.94L424.4 341.94L424.4 346.21L425.5 346.21L425.5 348.61L426.6 348.61L426.6 349.54L427.7 349.54L427.7 350.04L428.8 350.04L428.8 351.11L429.9 351.11L429.9 350.84L431 350.84L431 350.63L432.1 350.63L432.1 351.46L433.2 351.46L433.2 351.88L434.3 351.88L434.3 351.92L435.4 351.92L435.4 351.23L436.5 351.23L436.5 351.31L437.6 351.31L437.6 350.91L438.7 350.91L438.7 351.08L439.8 351.08L439.8 352.01L440.9 352.01L440.9 352.09L442 352.09L442 351.99L443.1 351.99L443.1 352.11L444.2 352.11L444.2 351.33L445.3 351.33L445.3 351.1L446.4 351.1L446.4 353.08L447.5 353.08L447.5 353.31L448.6 353.31L448.6 353.09L449.7 353.09L449.7 353.29L450.8 353.29L450.8 353.25L451.9 353.25L451.9 353.14L453 353.14L453 353.37L454.1 353.37L454.1 353.37L455.2 353.37L455.2 353.11L456.3 353.11L456.3 353.3L457.4 353.3L457.4 353.27L458.5 353.27L458.5 353.2L459.6 353.2L459.6 353.16L460.7 353.16L460.7 353.4L461.8 353.4L461.8 353.28L462.9 353.28L462.9 353.25L464 353.25L464 353.23L465.1 353.23L465.1 353.33L466.2 353.33L466.2 353.2L467.3 353.2L467.3 353.07L468.4 353.07L468.4 353.26L469.5 353.26L469.5 353.21L470.6 353.21L470.6 353.36L471.7 353.36L471.7 353.3L472.8 353.3L472.8 353.17L473.9 353.17L473.9 353.36L475 353.36L475 353.09L476.1 353.09L476.1 353.08L477.2 353.08L477.2 353.37L478.3 353.37L478.3 353.07L479.4 353.07L479.4 353.27L480.5 353.27L480.5 353.13L481.6 353.13L481.6 353.13L482.7 353.13L482.7 353.3L483.8 353.3L483.8 353.16L484.9 353.16L484.9 353.17L486 353.17L486 353.12L487.1 353.12L487.1 353.31L488.2 353.31L488.2 353.14L489.3 353.14L489.3 353.06L490.4 353.06L490.4 353.16L491.5 353.16L491.5 353.21L492.6 353.21L492.6 353.36L493.7 353.36L493.7 353.23L494.8 353.23L494.8 353.28L495.9 353.28L495.9 353.15L497 353.15L497 353.16L498.1 353.16L498.1 353.2L499.2 353.2L499.2 353.34L500.3 353.34L500.3 353.17L501.4 353.17L501.4 353.18L502.5 353.18L502.5 353.34L503.6 353.34L503.6 353.09L504.7 353.09L504.7 353.17L505.8 353.17L505.8 353.36L506.9 353.36L506.9 353.07L508 353.07L508 353.35" stroke="#0c0c0c" stroke-width="2.1" fill="none" stroke-linejoin="miter"/>
<path d="M377.8 257H509.8V355.2" stroke="#111" stroke-width="1.4" fill="none"/>
<path d="M377.8 256.3V355.2H510.5" stroke="#0c0c0c" stroke-width="2" fill="none"/>
<path d="M378.4 290V355.2" stroke="#0c0c0c" stroke-width="3" fill="none"/>
<path d="M377.3 355.2h-5.6M377.3 351.11h-4.4M377.3 347.02h-4.4M377.3 342.93h-4.4M377.3 338.84h-4.4M377.3 334.75h-5.6M377.3 330.66h-4.4M377.3 326.57h-4.4M377.3 322.48h-4.4M377.3 318.39h-4.4M377.3 314.3h-5.6M377.3 310.21h-4.4M377.3 306.12h-4.4M377.3 302.03h-4.4M377.3 297.94h-4.4M377.3 293.85h-5.6M377.3 289.76h-4.4M377.3 285.67h-4.4M377.3 281.58h-4.4M377.3 277.49h-4.4M377.3 273.4h-5.6M377.3 269.31h-4.4M377.3 265.22h-4.4M377.3 261.13h-4.4M377.3 257.04h-4.4" stroke="#111" stroke-width="1.5" fill="none"/>
<path d="M377.8 355.7v5.5M387.73 355.7v3.2M393.55 355.7v3.2M397.67 355.7v3.2M400.87 355.7v3.2M403.48 355.7v3.2M405.69 355.7v3.2M407.6 355.7v3.2M409.29 355.7v3.2M410.8 355.7v5.5M420.73 355.7v3.2M426.55 355.7v3.2M430.67 355.7v3.2M433.87 355.7v3.2M436.48 355.7v3.2M438.69 355.7v3.2M440.6 355.7v3.2M442.29 355.7v3.2M443.8 355.7v5.5M453.73 355.7v3.2M459.55 355.7v3.2M463.67 355.7v3.2M466.87 355.7v3.2M469.48 355.7v3.2M471.69 355.7v3.2M473.6 355.7v3.2M475.29 355.7v3.2M476.8 355.7v5.5M486.73 355.7v3.2M492.55 355.7v3.2M496.67 355.7v3.2M499.87 355.7v3.2M502.48 355.7v3.2M504.69 355.7v3.2M506.6 355.7v3.2M508.29 355.7v3.2M509.8 355.7v5.5" stroke="#111" stroke-width="1.2" fill="none"/>
<g transform="translate(370.2 375.5) scale(0.82 1)"><text x="0" y="0" font-size="12.2" fill="#111" stroke="#111" stroke-width="0.3">10</text></g>
<g transform="translate(381.2 369.4) scale(0.92 1)"><text x="0" y="0" font-size="12.2" fill="#111" stroke="#111" stroke-width="0.3">0</text></g>
<g transform="translate(403.2 375.5) scale(0.82 1)"><text x="0" y="0" font-size="12.2" fill="#111" stroke="#111" stroke-width="0.3">10</text></g>
<g transform="translate(414.2 369.4) scale(0.92 1)"><text x="0" y="0" font-size="12.2" fill="#111" stroke="#111" stroke-width="0.3">1</text></g>
<g transform="translate(436.2 375.5) scale(0.82 1)"><text x="0" y="0" font-size="12.2" fill="#111" stroke="#111" stroke-width="0.3">10</text></g>
<g transform="translate(447.2 369.4) scale(0.92 1)"><text x="0" y="0" font-size="12.2" fill="#111" stroke="#111" stroke-width="0.3">2</text></g>
<g transform="translate(469.2 375.5) scale(0.82 1)"><text x="0" y="0" font-size="12.2" fill="#111" stroke="#111" stroke-width="0.3">10</text></g>
<g transform="translate(480.2 369.4) scale(0.92 1)"><text x="0" y="0" font-size="12.2" fill="#111" stroke="#111" stroke-width="0.3">3</text></g>
<g transform="translate(502.2 375.5) scale(0.82 1)"><text x="0" y="0" font-size="12.2" fill="#111" stroke="#111" stroke-width="0.3">10</text></g>
<g transform="translate(513.2 369.4) scale(0.92 1)"><text x="0" y="0" font-size="12.2" fill="#111" stroke="#111" stroke-width="0.3">4</text></g>
<g transform="translate(379.2 250.7) scale(1.11 1)"><text x="0" y="0" font-size="13.8" fill="#111" stroke="#111" stroke-width="0.25">sIgM<tspan dy="-4.8" font-size="9.8">-</tspan><tspan dy="4.8">sIgD</tspan><tspan dy="-4.8" font-size="9.8">+</tspan></text></g>
<text x="382.6" y="271.8" font-size="13.8" text-anchor="start" font-weight="normal" fill="#111" stroke="#111" stroke-width="0.25"  textLength="8.6" lengthAdjust="spacingAndGlyphs">3</text>
<text x="467.7" y="272.4" font-size="15.2" text-anchor="start" font-weight="normal" fill="#111" stroke="#111" stroke-width="0.25"  textLength="38.3" lengthAdjust="spacingAndGlyphs">12.39</text>
<path d="M78.5 387.2L465 387.2" stroke="#111" stroke-width="1.3" fill="none"/>
<path d="M474.5 387.2L464 390.8L464 383.6Z" fill="#111"/>
<text x="273.6" y="406.3" font-size="15.4" text-anchor="middle" font-weight="normal" fill="#111" stroke="#111" stroke-width="0.25" >GFP</text>
<path d="M113.5 602.75h1.7M118.5 599.25h1.7M81.5 602.75h1.7M106 636.75h1.7M87.5 589.75h1.7M108 575.25h1.7M110.5 601.25h1.7M97.5 614.25h1.7M98.5 650.75h1.7M96.5 636.25h1.7M108.5 600.25h1.7M121 596.75h1.7M96.5 641.25h1.7M80 596.25h1.7M117.5 646.75h1.7M128.5 579.75h1.7M105 571.25h1.7M116.5 660.25h1.7M125.5 576.25h1.7M114 641.75h1.7M115 656.75h1.7M117 652.75h1.7M101 610.75h1.7M98.5 652.75h1.7M116 610.25h1.7M110 577.25h1.7M92 578.75h1.7M106.5 579.25h1.7M113 638.25h1.7M88 575.75h1.7M94 667.75h1.7M83 595.25h1.7M99.5 675.25h1.7M115 612.25h1.7M117.5 670.75h1.7M98.5 655.25h1.7M79 597.75h1.7M95.5 644.25h1.7M104.5 590.25h1.7M86.5 609.75h1.7M99 660.75h1.7M115 658.25h1.7M89 588.75h1.7M114.5 646.75h1.7M127.5 588.75h1.7M106 607.75h1.7M114.5 672.25h1.7M89.5 639.75h1.7M98 647.75h1.7M115.5 575.25h1.7M91.5 615.25h1.7M104 584.25h1.7M118 660.75h1.7M128.5 585.25h1.7M107.5 605.75h1.7M100 646.75h1.7M115.5 628.75h1.7M118 668.75h1.7M108 594.75h1.7M84 604.25h1.7M105 590.25h1.7M122.5 575.25h1.7M106 593.25h1.7M101 613.75h1.7M81.5 615.25h1.7M115.5 598.25h1.7M119 662.75h1.7M95.5 651.25h1.7M114.5 597.25h1.7M109 603.75h1.7M83.5 592.25h1.7M127.5 584.75h1.7M80 596.75h1.7M119 600.25h1.7M112 642.75h1.7M100.5 635.25h1.7M111.5 635.75h1.7M99 613.75h1.7M108 604.75h1.7M83 605.25h1.7M105 591.75h1.7M118.5 573.75h1.7M130.5 629.25h1.7M114 632.75h1.7M97.5 586.75h1.7M81.5 613.25h1.7M89 589.25h1.7M97 641.75h1.7M122 572.25h1.7M129.5 570.75h1.7M97 667.25h1.7M119.5 605.25h1.7M121.5 667.75h1.7M74.5 611.75h1.7M115 670.25h1.7M99.5 658.75h1.7M84.5 612.75h1.7M91.5 611.25h1.7M124.5 576.75h1.7M112 602.75h1.7M84 593.75h1.7M120.5 571.75h1.7M96.5 586.25h1.7M125.5 601.25h1.7M110 596.75h1.7M109.5 578.25h1.7M128 589.75h1.7M131 590.75h1.7M106.5 591.75h1.7M81 583.25h1.7M91 611.75h1.7M95 631.25h1.7M74.5 600.25h1.7M57 579.75h1.7M78 594.25h1.7M106 608.25h1.7M110 597.75h1.7M114.5 575.25h1.7M124.5 575.75h1.7M103 609.75h1.7M84 590.75h1.7M97.5 621.75h1.7M114.5 646.25h1.7M85.5 610.75h1.7M90 581.75h1.7M76 587.75h1.7M97 612.25h1.7M56 608.25h1.7M99.5 583.75h1.7M88 584.75h1.7M107.5 631.25h1.7M109.5 604.75h1.7M118.5 638.75h1.7M81.5 595.75h1.7M123 654.75h1.7M106 619.75h1.7M111 570.75h1.7M84.5 609.75h1.7M98 647.25h1.7M95 653.75h1.7M93 587.25h1.7M118.5 665.25h1.7M123 569.75h1.7M102 643.25h1.7M118 572.25h1.7M110.5 571.25h1.7M108 595.25h1.7M66.5 583.75h1.7M108 606.25h1.7M112 575.25h1.7M100.5 577.25h1.7M97 657.75h1.7M90.5 581.25h1.7M115 675.75h1.7M76 592.75h1.7M116.5 654.75h1.7M122.5 610.75h1.7M118.5 667.25h1.7M126 619.75h1.7M113 635.75h1.7M83.5 596.75h1.7M105.5 620.75h1.7M97.5 643.75h1.7M102 633.75h1.7M99 672.75h1.7M110 576.25h1.7M124 600.25h1.7M99.5 653.75h1.7M122.5 658.25h1.7M108.5 639.75h1.7M127 653.75h1.7M99 645.75h1.7M111.5 640.75h1.7M96.5 585.25h1.7M91.5 613.75h1.7M126 597.25h1.7M107 577.75h1.7M108.5 611.75h1.7M96.5 612.75h1.7M112 638.25h1.7M117.5 645.75h1.7M77 601.25h1.7M97 622.75h1.7M118 665.75h1.7M117 674.75h1.7M100.5 584.25h1.7M89 610.75h1.7M118 652.25h1.7M91 612.75h1.7M116 638.25h1.7M115 659.25h1.7M128 596.25h1.7M97 669.75h1.7M116.5 600.75h1.7M99 611.25h1.7M95 587.25h1.7M134 578.25h1.7M115 572.75h1.7M104 590.75h1.7M87 661.25h1.7M104.5 586.75h1.7M110 577.25h1.7M113.5 569.25h1.7M110.5 577.75h1.7M126 595.25h1.7M95 659.75h1.7M110.5 638.75h1.7M102.5 636.25h1.7M117.5 662.25h1.7M128.5 644.25h1.7M106 589.75h1.7M119 598.75h1.7M114.5 645.25h1.7M112 621.25h1.7M96.5 614.25h1.7M116.5 675.75h1.7M110 640.75h1.7M105 588.25h1.7M98.5 582.25h1.7M105 609.25h1.7M98 616.25h1.7M81.5 595.75h1.7M128 592.75h1.7M90.5 627.25h1.7M114.5 600.75h1.7M125.5 661.25h1.7M124 617.75h1.7M105 590.75h1.7M91.5 641.75h1.7M117.5 641.75h1.7M81 606.75h1.7M96 586.25h1.7M86.5 588.75h1.7M93.5 572.25h1.7M94 616.75h1.7M99 671.25h1.7M111.5 606.25h1.7M96.5 639.25h1.7M95 586.75h1.7M99.5 658.75h1.7M122 655.75h1.7M105 608.25h1.7M115 572.25h1.7M112.5 640.25h1.7M107 594.75h1.7M77.5 602.75h1.7M121.5 568.25h1.7M112 637.25h1.7M113 597.25h1.7M80 605.25h1.7M157 584.75h1.7M96 652.75h1.7M103.5 586.25h1.7M118 642.75h1.7M99.5 656.25h1.7M93.5 587.75h1.7M88.5 610.75h1.7M109 608.25h1.7M71 624.75h1.7M96.5 674.75h1.7M109 638.75h1.7M99.5 672.75h1.7M73 604.25h1.7M109.5 630.75h1.7M98.5 674.75h1.7M91.5 615.75h1.7M118 598.75h1.7M116.5 566.75h1.7M113.5 597.25h1.7M118.5 671.25h1.7M83 588.75h1.7M103.5 574.25h1.7M108 602.25h1.7M120.5 576.25h1.7M75 605.75h1.7M118.5 600.75h1.7M104 641.75h1.7M105 572.25h1.7M82.5 590.25h1.7M125 579.75h1.7M76 588.75h1.7M113.5 640.75h1.7M125.5 594.25h1.7M84 592.25h1.7M110.5 626.25h1.7M109 599.75h1.7M101 639.75h1.7M121.5 638.75h1.7M95 585.25h1.7M121 575.75h1.7M122.5 665.25h1.7M97 659.25h1.7M105 587.25h1.7M80 598.25h1.7M123.5 595.75h1.7M117.5 655.75h1.7M105.5 589.25h1.7M99.5 637.75h1.7M123.5 657.75h1.7M121 565.25h1.7M86 584.75h1.7M94.5 613.25h1.7M116 664.25h1.7M117.5 658.75h1.7M120.5 596.75h1.7M102 588.75h1.7M116.5 573.25h1.7M109.5 602.25h1.7M132.5 608.75h1.7M105 589.75h1.7M105.5 615.25h1.7M97.5 650.75h1.7M120.5 635.25h1.7M91 611.25h1.7M115 643.25h1.7M111.5 642.75h1.7M88 669.75h1.7M78.5 598.75h1.7M103 580.75h1.7M114.5 572.75h1.7M73 586.25h1.7M97 566.75h1.7M120.5 649.25h1.7M83 603.75h1.7M87 588.75h1.7M115 665.75h1.7M116.5 603.25h1.7M104.5 583.25h1.7M117 637.25h1.7M128 568.25h1.7M123.5 569.75h1.7M115 670.25h1.7M126.5 591.75h1.7M108 597.25h1.7M105.5 589.75h1.7M115.5 661.25h1.7M84.5 592.25h1.7M108 640.75h1.7M70.5 579.75h1.7M83.5 595.75h1.7M115 662.25h1.7M94.5 612.25h1.7M83.5 594.25h1.7M108.5 600.75h1.7M115 602.75h1.7M109 637.25h1.7M83 601.75h1.7M90 587.25h1.7M94.5 631.25h1.7M102.5 613.75h1.7M97.5 573.25h1.7M120.5 642.25h1.7M85 583.75h1.7M101.5 628.25h1.7M115.5 646.25h1.7M99.5 588.25h1.7M116.5 665.25h1.7M97 648.75h1.7M90.5 670.75h1.7M96.5 651.25h1.7M95 637.75h1.7M78.5 593.25h1.7M108.5 639.75h1.7M99.5 586.25h1.7M83 594.75h1.7M100 587.75h1.7M118.5 599.75h1.7M76.5 643.25h1.7M105.5 582.75h1.7M71 594.25h1.7M117 652.75h1.7M115.5 654.25h1.7M101 576.25h1.7M130 579.75h1.7M106 607.25h1.7M114 600.75h1.7M115 649.75h1.7M114.5 597.25h1.7M98 672.75h1.7M104.5 614.75h1.7M128.5 584.25h1.7M111.5 572.25h1.7M92 583.75h1.7M100.5 610.75h1.7M127 573.25h1.7M88.5 567.75h1.7M110.5 563.75h1.7M114.5 575.75h1.7M93.5 583.75h1.7M81.5 602.25h1.7M99 586.25h1.7M79 615.75h1.7M113 641.25h1.7M77 593.25h1.7M107 578.75h1.7M84.5 613.25h1.7M79.5 614.75h1.7M89.5 648.25h1.7M94.5 647.75h1.7M108 594.75h1.7M117 572.25h1.7M127 590.75h1.7M93.5 611.75h1.7M105.5 591.75h1.7M121.5 623.25h1.7M112 600.75h1.7M93.5 611.75h1.7M122 596.25h1.7M111 596.25h1.7M107.5 608.25h1.7M107.5 640.25h1.7M80 614.25h1.7M115.5 599.25h1.7M118.5 572.25h1.7M55.5 616.25h1.7M102.5 639.75h1.7M99.5 671.75h1.7M110 598.25h1.7M82.5 603.25h1.7M104.5 585.75h1.7M105 584.75h1.7M108 593.25h1.7M117.5 602.75h1.7M108.5 613.25h1.7M115 656.25h1.7M105.5 591.75h1.7M118.5 600.75h1.7M116.5 648.75h1.7M114 644.75h1.7M94.5 621.25h1.7M85.5 584.25h1.7M123.5 646.25h1.7M115 675.25h1.7M99.5 662.75h1.7M96 561.25h1.7M83.5 603.25h1.7M93.5 615.75h1.7M125 578.75h1.7M96.5 611.75h1.7M83.5 596.25h1.7M83.5 610.25h1.7M120.5 671.25h1.7M101 611.25h1.7M95.5 647.75h1.7M107 604.75h1.7M127.5 582.75h1.7M123 577.75h1.7M105.5 582.25h1.7M124 571.75h1.7M85 607.75h1.7M86 581.25h1.7M82.5 588.75h1.7M114.5 664.75h1.7M108.5 578.25h1.7M99 584.25h1.7M116 668.75h1.7M90 611.25h1.7M83 598.25h1.7M103.5 589.75h1.7M104 639.75h1.7M83.5 609.75h1.7M122 661.75h1.7M119.5 575.25h1.7M102 636.75h1.7M89.5 638.75h1.7M129 583.75h1.7M101.5 610.75h1.7M95 672.25h1.7M106.5 569.25h1.7M110.5 598.25h1.7M128.5 581.25h1.7M65.5 597.75h1.7M104 611.25h1.7M114.5 575.25h1.7M101.5 639.75h1.7M104 579.75h1.7M105 582.25h1.7M95 631.25h1.7M131.5 592.75h1.7M110 600.25h1.7M131.5 560.25h1.7M107.5 618.75h1.7M82 594.25h1.7M61.5 626.75h1.7M85.5 591.75h1.7M118.5 600.75h1.7M125.5 576.75h1.7M125.5 572.25h1.7M94.5 582.75h1.7M100.5 642.75h1.7M123.5 596.75h1.7M108 579.25h1.7M88.5 615.25h1.7M131 587.75h1.7M95.5 654.25h1.7M111 577.25h1.7M104 585.75h1.7M119 651.25h1.7M106 580.25h1.7M91.5 659.25h1.7M106.5 577.75h1.7M121 574.75h1.7M114.5 607.75h1.7M89 661.75h1.7M98 584.75h1.7M116 669.25h1.7M92 586.25h1.7M117.5 631.75h1.7M99 651.75h1.7M74.5 586.25h1.7M83.5 609.75h1.7M69 601.25h1.7M117 669.25h1.7M107.5 614.75h1.7M105 589.75h1.7M86.5 582.25h1.7M90.5 588.25h1.7M98 647.25h1.7M96.5 675.25h1.7M82 623.75h1.7M128.5 591.75h1.7M107.5 611.75h1.7M83 598.75h1.7M100 611.75h1.7M140 581.25h1.7M83.5 615.25h1.7M110 598.75h1.7M71.5 607.25h1.7M60.5 595.75h1.7M95 675.75h1.7M108.5 604.25h1.7M116 669.25h1.7M109 638.25h1.7M82 593.25h1.7M104.5 586.25h1.7M129 585.75h1.7M118.5 597.25h1.7M95 586.75h1.7M96 661.75h1.7M108.5 597.75h1.7M93.5 641.25h1.7M118 620.25h1.7M94.5 585.25h1.7M99 662.25h1.7M109.5 599.75h1.7M96.5 642.75h1.7M102 586.75h1.7M97.5 638.25h1.7M116.5 655.75h1.7M94.5 574.25h1.7M109 603.25h1.7M115 666.25h1.7M123.5 594.75h1.7M115 676.75h1.7M95.5 587.75h1.7M110.5 640.25h1.7M105.5 584.75h1.7M103 565.25h1.7M116.5 605.25h1.7M115 670.75h1.7M101 644.75h1.7M108.5 637.25h1.7M98.5 587.75h1.7M96 582.25h1.7M100.5 640.75h1.7M110 562.75h1.7M120.5 652.25h1.7M122.5 598.75h1.7M103.5 581.25h1.7M115 651.75h1.7M104 582.75h1.7M81 598.75h1.7M92 582.75h1.7M105.5 592.25h1.7M80.5 641.75h1.7M116.5 607.75h1.7M117 675.75h1.7M111 596.25h1.7M112.5 638.75h1.7M105 641.75h1.7M118 654.75h1.7M104.5 587.75h1.7M128.5 592.25h1.7M112 565.25h1.7M96 632.75h1.7M127 581.25h1.7M95 628.75h1.7M122 612.75h1.7M108.5 602.25h1.7M95.5 584.75h1.7M88 616.25h1.7M95 614.75h1.7M84 607.25h1.7M76 606.75h1.7M99 664.25h1.7M82.5 591.75h1.7M82 614.25h1.7M120 639.75h1.7M115.5 673.75h1.7M130 575.75h1.7M115 653.25h1.7M130.5 565.75h1.7M126.5 596.25h1.7M81.5 597.25h1.7M121.5 596.75h1.7M109 573.75h1.7M115.5 641.25h1.7M112.5 574.75h1.7M118.5 575.75h1.7M100.5 612.75h1.7M90 588.75h1.7M126 579.75h1.7M113.5 644.25h1.7M80 585.25h1.7M81 600.25h1.7M110 602.25h1.7M127.5 596.75h1.7M94.5 584.75h1.7M92 621.75h1.7M117.5 669.75h1.7M117 608.75h1.7M99 618.75h1.7M96.5 611.75h1.7M134 585.75h1.7M113 573.25h1.7M111 601.25h1.7M102.5 580.75h1.7M108 603.25h1.7M78.5 613.25h1.7M92.5 588.25h1.7M109 595.25h1.7M98 646.75h1.7M105.5 589.25h1.7M110 598.75h1.7M111.5 596.25h1.7M114.5 634.75h1.7M84 588.25h1.7M110 641.25h1.7M89 656.75h1.7M118.5 645.75h1.7M98.5 653.25h1.7M96.5 587.75h1.7M125 632.25h1.7M110.5 638.25h1.7M109 641.25h1.7M115.5 648.75h1.7M115 648.75h1.7M108 574.75h1.7M114.5 662.25h1.7M84.5 566.25h1.7M125 593.75h1.7M103 587.75h1.7M103 572.25h1.7M86.5 590.25h1.7M104.5 586.25h1.7M87 583.75h1.7M104.5 641.75h1.7M109.5 602.25h1.7M97 668.25h1.7M105 641.25h1.7M123 604.25h1.7M115.5 667.75h1.7M78.5 595.75h1.7M116 641.75h1.7M110.5 573.75h1.7M122 599.25h1.7M90.5 587.75h1.7M116 676.25h1.7M84.5 612.25h1.7M98.5 658.25h1.7M104 636.25h1.7M119 640.25h1.7M90.5 611.75h1.7M100.5 586.75h1.7M127 581.75h1.7M116.5 647.75h1.7M104 641.25h1.7M97 656.25h1.7M87.5 670.25h1.7M93 621.25h1.7M104 582.25h1.7M110.5 577.25h1.7M104.5 609.25h1.7M126 646.75h1.7M102 584.25h1.7M94.5 661.25h1.7M106 607.75h1.7M122.5 595.25h1.7M147 582.75h1.7M94.5 612.25h1.7M120 598.25h1.7M84 592.75h1.7M91 611.25h1.7M129 594.25h1.7M114 629.25h1.7M75 605.75h1.7M111.5 596.75h1.7M93 583.75h1.7M108 594.75h1.7M88.5 579.75h1.7M78.5 597.25h1.7M120.5 600.75h1.7M88 584.75h1.7M105.5 635.25h1.7M115.5 674.75h1.7M118 638.25h1.7M110.5 570.75h1.7M79.5 598.75h1.7M110.5 595.75h1.7M83.5 593.75h1.7M98.5 579.25h1.7M94 617.75h1.7M83 597.75h1.7M109.5 596.75h1.7M79.5 622.25h1.7M115 669.75h1.7M101.5 643.25h1.7M104 610.75h1.7M113.5 567.25h1.7M107.5 606.75h1.7M111.5 613.25h1.7M121 634.25h1.7M126.5 592.75h1.7M120.5 574.75h1.7M100 613.25h1.7M112.5 598.75h1.7M110.5 596.25h1.7M125 579.75h1.7M87.5 615.25h1.7M98 646.25h1.7M103.5 611.25h1.7M128 645.75h1.7M113 598.75h1.7M120 654.25h1.7M104 563.25h1.7M115 648.25h1.7M95 662.75h1.7M92.5 634.75h1.7M128.5 583.25h1.7M120 597.25h1.7M117 599.75h1.7M86 608.25h1.7M100 587.75h1.7M91.5 587.25h1.7M88.5 587.25h1.7M106 590.75h1.7M91.5 583.25h1.7M104 626.25h1.7M98.5 647.75h1.7M98 672.25h1.7M114 600.75h1.7M99 674.25h1.7M80 607.75h1.7M88.5 622.25h1.7M107 604.25h1.7M100.5 611.75h1.7M125 599.75h1.7M125.5 594.75h1.7M86 590.75h1.7M105.5 586.75h1.7M99.5 581.75h1.7M99 661.25h1.7M117 667.25h1.7M75.5 594.75h1.7M126.5 563.25h1.7M108.5 596.75h1.7M97 656.75h1.7M102.5 588.75h1.7M116.5 605.25h1.7M69 611.75h1.7M96 586.25h1.7M137 583.25h1.7M123 577.75h1.7M94 611.75h1.7M118.5 648.25h1.7M83.5 616.75h1.7M92 643.25h1.7M82 616.75h1.7M123 595.75h1.7M74 614.75h1.7M100.5 588.75h1.7M109 597.75h1.7M117 662.75h1.7M82.5 565.75h1.7M118 652.25h1.7M95 646.75h1.7M122 605.25h1.7M125 574.75h1.7M97.5 664.75h1.7M109 598.25h1.7M108.5 638.75h1.7M126.5 595.25h1.7M106 608.75h1.7M112 613.25h1.7M115 604.75h1.7M84 636.25h1.7M134 639.25h1.7M116.5 638.75h1.7M99 673.75h1.7M122.5 573.25h1.7M82 603.75h1.7M118.5 610.25h1.7M91 640.75h1.7M96 641.75h1.7M100.5 579.75h1.7M81 593.25h1.7M83.5 632.25h1.7M131 574.25h1.7M81.5 600.25h1.7M98 612.25h1.7M120.5 657.75h1.7M87 610.75h1.7M82 600.25h1.7M113 635.75h1.7M95 665.25h1.7M115.5 574.75h1.7M108.5 578.25h1.7M99.5 673.25h1.7M79.5 609.25h1.7M115.5 661.75h1.7M109 615.25h1.7M119 597.25h1.7M107.5 595.25h1.7M87.5 584.25h1.7M100 612.75h1.7M77.5 575.75h1.7M101 613.75h1.7M85 592.75h1.7M128 587.75h1.7M128 639.25h1.7M119 573.75h1.7M114.5 643.75h1.7M66 547.75h1.7M87.5 620.75h1.7M108.5 600.25h1.7M116 654.75h1.7M115.5 651.75h1.7M77.5 590.25h1.7M144 584.25h1.7M108 603.75h1.7M103 578.75h1.7M115 653.25h1.7M96 671.25h1.7M112.5 642.25h1.7M125 604.25h1.7M117.5 574.75h1.7M81 604.25h1.7M92.5 578.75h1.7M90 617.25h1.7M127 579.25h1.7M100 646.25h1.7M105.5 585.25h1.7M114 574.25h1.7M117 649.25h1.7M109.5 640.25h1.7M94.5 633.25h1.7M87.5 586.75h1.7M110 639.75h1.7M120 647.75h1.7M107.5 602.75h1.7M101 588.25h1.7M99 660.25h1.7M99 582.75h1.7M101 641.25h1.7M126.5 581.75h1.7M105.5 592.25h1.7M78.5 597.75h1.7M115 610.25h1.7M85 637.25h1.7M83.5 594.75h1.7M86.5 608.75h1.7M125.5 598.75h1.7M106.5 605.75h1.7M95 587.25h1.7M99.5 612.25h1.7M94 584.75h1.7M99.5 636.75h1.7M96.5 587.25h1.7M113 613.25h1.7M90 613.25h1.7M58.5 623.75h1.7M126.5 577.75h1.7M94.5 644.75h1.7M111 571.75h1.7M98 664.25h1.7M78.5 587.75h1.7M112 627.25h1.7M100 616.75h1.7M118 668.75h1.7M125 599.25h1.7M105 584.75h1.7M104 614.25h1.7M98.5 587.25h1.7M102 633.75h1.7M97.5 676.75h1.7M100 581.25h1.7M116.5 574.25h1.7M112 599.75h1.7M111 576.75h1.7M87.5 583.25h1.7M128 586.75h1.7M90 566.25h1.7M118 676.25h1.7M120.5 652.25h1.7M104 641.75h1.7M107.5 611.75h1.7M116.5 597.25h1.7M101 643.75h1.7M108 595.75h1.7M110.5 602.25h1.7M127 583.25h1.7M144.5 582.75h1.7M80 608.25h1.7M115.5 664.25h1.7M103 577.75h1.7M107 605.75h1.7M93.5 667.25h1.7M123.5 594.75h1.7M116 673.25h1.7M103 583.75h1.7M119.5 575.25h1.7M105.5 590.25h1.7M97.5 649.75h1.7M102.5 642.25h1.7M99 611.25h1.7M110.5 610.75h1.7M117 661.75h1.7M99.5 666.25h1.7M124 574.75h1.7M80 595.25h1.7M110.5 577.25h1.7M116.5 640.75h1.7M91.5 644.25h1.7M119.5 630.75h1.7M99.5 666.25h1.7M124.5 643.25h1.7M117 611.25h1.7M152 602.75h1.7M116 650.25h1.7M116.5 639.75h1.7M82.5 600.75h1.7M104 635.25h1.7M98 658.25h1.7M111 640.25h1.7M82 603.75h1.7M112 597.75h1.7M100.5 588.75h1.7M117 674.75h1.7M99.5 666.75h1.7M114 575.75h1.7M104.5 609.25h1.7M110 576.25h1.7M119 575.75h1.7M96.5 648.75h1.7M112 600.75h1.7M92.5 619.75h1.7M109.5 577.25h1.7M94.5 578.75h1.7M83 596.75h1.7M104.5 583.75h1.7M97 581.25h1.7M99.5 651.25h1.7M97.5 653.75h1.7M112.5 643.25h1.7M119 638.75h1.7M78 598.25h1.7M124.5 627.75h1.7M83 603.75h1.7M77 649.75h1.7M92 617.75h1.7M106.5 580.75h1.7M78.5 612.25h1.7M79 595.25h1.7M116.5 597.75h1.7M93.5 611.75h1.7M84 613.75h1.7M97.5 646.25h1.7M134.5 625.25h1.7M90.5 585.25h1.7M90 614.25h1.7M88 609.75h1.7M127 582.75h1.7M120.5 640.75h1.7M93 585.75h1.7M101.5 611.25h1.7M80.5 598.75h1.7M115.5 667.25h1.7M119.5 647.25h1.7M103.5 609.25h1.7M109.5 639.75h1.7M116.5 660.25h1.7M98.5 659.25h1.7M99.5 650.75h1.7M125 593.75h1.7M122 671.25h1.7M97 650.75h1.7M96.5 660.25h1.7M105.5 636.75h1.7M87 589.25h1.7M130 589.25h1.7M110 601.25h1.7M105.5 573.25h1.7M90.5 582.75h1.7M100 674.75h1.7M72.5 565.75h1.7M121 575.75h1.7M124.5 579.25h1.7M109 603.25h1.7M75 592.75h1.7M105.5 637.25h1.7M100 614.75h1.7M121 570.25h1.7M83 606.75h1.7M118 658.25h1.7M107.5 578.75h1.7M108 609.25h1.7M89.5 656.75h1.7M86 589.25h1.7M82 593.75h1.7M99 666.25h1.7M114.5 650.75h1.7M111 641.75h1.7M99.5 669.75h1.7M93.5 658.25h1.7M123 614.25h1.7M82.5 597.25h1.7M78.5 629.25h1.7M78.5 614.25h1.7M77 595.25h1.7M127.5 585.25h1.7M108.5 593.75h1.7M127 581.75h1.7M99 661.25h1.7M85.5 562.25h1.7M87.5 612.25h1.7M92 646.75h1.7M129.5 602.25h1.7M71.5 606.75h1.7M113.5 599.25h1.7M95 584.25h1.7M107.5 595.75h1.7M93.5 664.75h1.7M100 646.25h1.7M98 673.75h1.7M103 641.25h1.7M109.5 575.25h1.7M108 625.75h1.7M96 646.75h1.7M81.5 608.75h1.7M125.5 635.75h1.7M110.5 604.75h1.7M135 599.75h1.7M79 597.25h1.7M82.5 600.25h1.7M115 605.75h1.7M105 587.75h1.7M115.5 653.25h1.7M81 600.75h1.7M94 572.25h1.7M116.5 601.25h1.7M65.5 589.25h1.7M127.5 584.75h1.7M109 600.75h1.7M83.5 605.75h1.7M119 597.25h1.7M114 599.25h1.7M107 576.25h1.7M97.5 613.75h1.7M79.5 600.75h1.7M96.5 586.25h1.7M124 594.25h1.7M86.5 611.75h1.7M102 588.25h1.7M115.5 676.75h1.7M103 582.75h1.7M104 589.75h1.7M89.5 615.75h1.7M105 591.75h1.7M117 640.25h1.7M68.5 611.25h1.7M99 675.25h1.7M110 577.75h1.7M100.5 645.25h1.7M109 640.25h1.7M99.5 633.25h1.7M108.5 602.75h1.7M81 604.75h1.7M113.5 609.25h1.7M111 598.75h1.7M110.5 604.25h1.7M93 615.75h1.7M140.5 595.25h1.7M129.5 645.25h1.7M102.5 570.75h1.7M98 614.25h1.7M117 670.75h1.7M98.5 648.25h1.7M109.5 618.25h1.7M107.5 595.25h1.7M115 667.25h1.7M83 595.75h1.7M105.5 611.25h1.7M126 641.75h1.7M99.5 654.25h1.7M75 598.75h1.7M98.5 662.25h1.7M114.5 630.75h1.7M120 597.75h1.7M76 555.25h1.7M121 632.25h1.7M95 657.25h1.7M108.5 602.75h1.7M116 601.25h1.7M105.5 580.75h1.7M96 664.25h1.7M110.5 574.75h1.7M118.5 572.75h1.7M119 645.75h1.7M91 579.25h1.7M115.5 615.75h1.7M82 602.75h1.7M110 594.75h1.7M113.5 643.75h1.7M121.5 562.25h1.7M111.5 639.75h1.7M108.5 603.25h1.7M74.5 601.75h1.7M114.5 658.75h1.7M101.5 642.75h1.7M105.5 607.75h1.7M117.5 656.25h1.7M93 612.75h1.7M93 652.75h1.7M116 672.25h1.7M125 571.25h1.7M119 641.25h1.7M82 586.75h1.7M79 596.25h1.7M99 611.25h1.7M97.5 653.75h1.7M97 587.75h1.7M116.5 667.25h1.7M103.5 617.75h1.7M94 578.25h1.7M105.5 609.25h1.7M115 600.25h1.7M96.5 656.75h1.7M116.5 608.75h1.7M83.5 589.75h1.7M90 641.25h1.7M116 666.75h1.7M130 587.75h1.7M117.5 644.25h1.7M96 658.75h1.7M114.5 603.25h1.7M115 651.25h1.7M114.5 640.75h1.7M76.5 585.75h1.7M113 600.25h1.7M102.5 611.75h1.7M123 575.75h1.7M108.5 635.75h1.7M114 642.25h1.7M108.5 606.25h1.7M91 587.25h1.7M108 610.25h1.7M96.5 654.25h1.7M85 584.75h1.7M124 578.25h1.7M83 598.75h1.7M128 585.25h1.7M118 621.75h1.7M115.5 649.75h1.7M121 632.25h1.7M84 607.25h1.7M82.5 596.25h1.7M106.5 580.75h1.7M125 579.25h1.7M126 643.25h1.7M93.5 580.75h1.7M90.5 676.75h1.7M125.5 566.25h1.7M123 603.75h1.7M131 587.25h1.7M115 653.25h1.7M108 609.25h1.7M104.5 574.25h1.7M118 676.75h1.7M110 606.25h1.7M99 650.25h1.7M127 596.75h1.7M111.5 611.25h1.7M94 582.25h1.7M78.5 577.75h1.7M97.5 586.75h1.7M122.5 575.25h1.7M128.5 590.25h1.7M97.5 637.75h1.7M75 605.25h1.7M99.5 674.25h1.7M107.5 614.25h1.7M79 597.75h1.7M130 645.25h1.7M98 584.25h1.7M111 623.25h1.7M127 594.25h1.7M109 603.75h1.7M93 612.25h1.7M99 661.25h1.7M95.5 675.25h1.7M108.5 600.25h1.7M116 608.25h1.7M105.5 584.75h1.7M121.5 574.75h1.7M109 577.25h1.7M99.5 638.25h1.7M104 587.25h1.7M97 624.25h1.7M104 591.25h1.7M92.5 632.25h1.7M76 579.75h1.7M81.5 642.75h1.7M56.5 621.25h1.7M99 595.75h1.7M75 660.25h1.7M72 598.75h1.7M56.5 581.25h1.7M53.5 645.25h1.7M77 591.75h1.7M56.5 638.75h1.7M53 661.75h1.7M84 635.75h1.7M78 594.25h1.7M75.5 639.25h1.7M96 625.25h1.7M72.5 673.75h1.7M70.5 596.75h1.7M70.5 596.25h1.7M90 607.75h1.7M60.5 646.25h1.7M90 661.25h1.7M72.5 619.25h1.7M82 582.25h1.7M81.5 659.75h1.7M67 615.75h1.7M65 659.75h1.7M76.5 636.75h1.7M78 585.75h1.7M99.5 629.75h1.7M61 574.25h1.7M73 596.25h1.7M83.5 597.25h1.7M82 580.25h1.7M75.5 618.75h1.7M84 609.75h1.7M84.5 594.25h1.7M65.5 608.25h1.7M66.5 533.25h1.7M73 617.75h1.7M68 585.25h1.7M93 590.25h1.7M64.5 605.75h1.7M84 595.25h1.7M66 622.75h1.7M64.5 623.25h1.7M82 571.25h1.7M77 670.75h1.7M71 608.25h1.7M85.5 656.75h1.7M98.5 623.75h1.7M85.5 640.25h1.7M81.5 613.25h1.7M83 620.75h1.7M81 661.75h1.7M111 602.25h1.7M84.5 636.75h1.7M85 658.25h1.7M82.5 625.75h1.7M75 631.75h1.7M76.5 636.25h1.7M71.5 632.25h1.7M63.5 645.25h1.7M72 592.75h1.7M56 645.25h1.7M83 627.75h1.7M96.5 646.25h1.7M73 668.75h1.7M62.5 629.25h1.7M73.5 610.75h1.7M74 576.25h1.7M98 579.75h1.7M98 638.75h1.7M55.5 629.25h1.7M95.5 602.25h1.7M95.5 617.25h1.7M61 647.75h1.7M95.5 650.75h1.7M85.5 584.75h1.7M88.5 657.75h1.7M72.5 617.25h1.7M78.5 605.75h1.7M63 575.25h1.7M56.5 600.25h1.7M79.5 621.75h1.7M68 628.75h1.7M76.5 583.75h1.7M82 661.25h1.7M89 616.75h1.7M89 581.25h1.7M82 606.75h1.7M70 581.25h1.7M55.5 592.25h1.7M84.5 579.25h1.7M77 619.75h1.7M68 576.25h1.7M67.5 586.75h1.7M68 614.25h1.7M90.5 651.75h1.7M86.5 615.25h1.7M62.5 579.25h1.7M78 591.25h1.7M66 592.25h1.7M84 657.25h1.7M56.5 605.25h1.7M93.5 579.75h1.7M60.5 658.25h1.7M77 665.25h1.7M85 585.75h1.7M72 597.25h1.7M66 631.75h1.7M92 603.75h1.7M60.5 580.75h1.7M82.5 637.25h1.7M88 593.25h1.7M56.5 621.25h1.7M57 619.75h1.7M68 643.75h1.7M68.5 594.75h1.7M76.5 643.25h1.7M99.5 654.25h1.7M54 665.25h1.7M89.5 645.25h1.7M65.5 644.25h1.7M94.5 608.75h1.7M85.5 675.75h1.7M89 622.75h1.7M107.5 638.25h1.7M110 634.25h1.7M96.5 631.25h1.7M115 623.75h1.7M112 613.75h1.7M125 610.25h1.7M105 599.25h1.7M108 636.75h1.7M118 616.75h1.7M107 606.75h1.7M117 626.75h1.7M112 623.25h1.7M116 621.75h1.7M115 623.25h1.7M93 639.75h1.7M101.5 637.75h1.7M114.5 641.75h1.7M92.5 631.75h1.7M86 620.25h1.7M109 639.75h1.7M87.5 619.75h1.7M90.5 621.25h1.7M100 615.75h1.7M96 623.25h1.7M107.5 625.75h1.7M97 633.75h1.7M110.5 609.75h1.7M110 633.25h1.7M100.5 619.75h1.7M95 630.75h1.7M109.5 626.75h1.7M114 613.25h1.7M100.5 641.25h1.7M110.5 611.75h1.7M104 628.75h1.7M100.5 635.25h1.7M93.5 616.75h1.7M124 646.75h1.7M98.5 620.75h1.7M104 634.25h1.7M105.5 626.25h1.7M106 634.25h1.7M103 629.75h1.7M113 632.25h1.7M122 589.75h1.7M147 586.25h1.7M119 578.25h1.7M129.5 587.25h1.7M132 597.75h1.7M138.5 660.75h1.7M133.5 596.25h1.7M138 586.25h1.7M57 561.75h1.7M113 549.25h1.7M89 560.25h1.7M133.5 653.25h1.7M137 669.25h1.7" stroke="#1e1e1e" stroke-width="1.7" fill="none" opacity="1"/>
<path d="M128.96 586.2L128.81 588.1L128.11 589.87L126.91 591.36L126.42 593.2L125 594.45L123.2 595.12L121.62 595.88L119.89 596.15L118.23 596.3L116.6 597.12L114.77 597.53L113.13 596.69L110.95 597.1L109.67 595.57L108.26 594.38L107.38 592.78L105.46 591.77L105.3 589.8L104.93 588.01L105.34 586.2L106.36 584.61L106.3 582.91L106.6 581.2L107.75 579.89L107.85 577.61L109.66 576.83L111.31 576L112.7 574.42L114.79 574.98L116.6 573.94L118.41 574.98L120.14 575.52L121.56 576.63L123.07 577.45L124.1 578.84L125.11 580.13L127.2 580.9L127.33 582.78L128.75 584.31Z" fill="#303030"/>
<path d="M107.98 599.5L107.95 601.38L109.22 603.75L107.37 605.26L106.24 606.94L105.42 608.96L103.34 609.78L101.82 611.31L99.38 610.88L97.61 612.17L95.5 611.22L93.51 611.49L91.36 611.64L89.49 610.75L87.31 610.24L85.69 608.85L84.94 606.81L82.6 605.77L82.2 603.62L82.3 601.49L82.6 599.5L82.03 597.47L83.19 595.69L83.64 593.74L84.99 592.22L86.04 590.48L87.88 589.5L89.39 588.07L91.29 587.14L93.42 586.96L95.5 585.6L97.62 586.73L99.88 586.65L101.95 587.43L103.39 589.15L104.22 591.19L106.17 592.11L106.93 593.95L107.01 595.94L107.41 597.7Z" fill="#303030"/>
<path d="M99.4 677.3V648.5C99.4 643.5 102.8 640.6 107.2 640.6C111.6 640.6 115 643.5 115 648.5V677.3Z" fill="#303030"/>
<path d="M121.53 588.8h1.1M123.64 579.05h1.1M122.5 589.61h1.1M122.92 586.55h1.1M123.74 580.52h1.1M93.14 602.13h1.1M99.65 600.25h1.1M92.65 597.03h1.1M88.92 598.77h1.1M89.66 592.75h1.1M87.1 598.74h1.1M109.54 669.52h1.1M105.6 663.26h1.1M102.03 672.73h1.1M106.17 667.99h1.1M108.05 652.32h1.1" stroke="#cfcfcf" stroke-width="1.1" fill="none" opacity="1"/>
<circle cx="123.4" cy="582.8" r="18.9" fill="none" stroke="#1c1c1c" stroke-width="1.1"/>
<circle cx="92.5" cy="601.1" r="19" fill="none" stroke="#1c1c1c" stroke-width="1.1"/>
<text x="138.2" y="565.6" font-size="13.4" text-anchor="start" font-weight="normal" fill="#111" stroke="#111" stroke-width="0.25" >1</text>
<text x="63.2" y="592" font-size="13.6" text-anchor="start" font-weight="normal" fill="#111" stroke="#111" stroke-width="0.25"  textLength="8.4" lengthAdjust="spacingAndGlyphs">2</text>
<path d="M51.8 522.8H263.4V677.8" stroke="#1c1c1c" stroke-width="1.1" fill="none"/>
<path d="M51.8 522.3V677.8H263.9" stroke="#0c0c0c" stroke-width="1.7" fill="none"/>
<path d="M51.8 677.8v5.6M67.72 677.8v3.4M77.04 677.8v3.4M83.65 677.8v3.4M88.78 677.8v3.4M92.96 677.8v3.4M96.51 677.8v3.4M99.57 677.8v3.4M102.28 677.8v3.4M104.7 677.8v5.6M120.62 677.8v3.4M129.94 677.8v3.4M136.55 677.8v3.4M141.68 677.8v3.4M145.86 677.8v3.4M149.41 677.8v3.4M152.47 677.8v3.4M155.18 677.8v3.4M157.6 677.8v5.6M173.52 677.8v3.4M182.84 677.8v3.4M189.45 677.8v3.4M194.58 677.8v3.4M198.76 677.8v3.4M202.31 677.8v3.4M205.37 677.8v3.4M208.08 677.8v3.4M210.5 677.8v5.6M226.42 677.8v3.4M235.74 677.8v3.4M242.35 677.8v3.4M247.48 677.8v3.4M251.66 677.8v3.4M255.21 677.8v3.4M258.27 677.8v3.4M260.98 677.8v3.4M263.4 677.8v5.6" stroke="#111" stroke-width="1.2" fill="none"/>
<path d="M51.8 677.8h-5.8M51.8 666.14h-3.8M51.8 659.31h-3.8M51.8 654.47h-3.8M51.8 650.71h-3.8M51.8 647.65h-3.8M51.8 645.05h-3.8M51.8 642.81h-3.8M51.8 640.82h-3.8M51.8 639.05h-5.8M51.8 627.39h-3.8M51.8 620.56h-3.8M51.8 615.72h-3.8M51.8 611.96h-3.8M51.8 608.9h-3.8M51.8 606.3h-3.8M51.8 604.06h-3.8M51.8 602.07h-3.8M51.8 600.3h-5.8M51.8 588.64h-3.8M51.8 581.81h-3.8M51.8 576.97h-3.8M51.8 573.21h-3.8M51.8 570.15h-3.8M51.8 567.55h-3.8M51.8 565.31h-3.8M51.8 563.32h-3.8M51.8 561.55h-5.8M51.8 549.89h-3.8M51.8 543.06h-3.8M51.8 538.22h-3.8M51.8 534.46h-3.8M51.8 531.4h-3.8M51.8 528.8h-3.8M51.8 526.56h-3.8M51.8 524.57h-3.8M51.8 522.8h-5.8" stroke="#111" stroke-width="1.2" fill="none"/>
<g transform="translate(44.6 697.8) scale(0.82 1)"><text x="0" y="0" font-size="12.2" fill="#111" stroke="#111" stroke-width="0.3">10</text></g>
<g transform="translate(54.5 691.2) scale(0.92 1)"><text x="0" y="0" font-size="12.2" fill="#111" stroke="#111" stroke-width="0.3">0</text></g>
<g transform="translate(97.5 697.8) scale(0.82 1)"><text x="0" y="0" font-size="12.2" fill="#111" stroke="#111" stroke-width="0.3">10</text></g>
<g transform="translate(107.4 691.2) scale(0.92 1)"><text x="0" y="0" font-size="12.2" fill="#111" stroke="#111" stroke-width="0.3">1</text></g>
<g transform="translate(150.4 697.8) scale(0.82 1)"><text x="0" y="0" font-size="12.2" fill="#111" stroke="#111" stroke-width="0.3">10</text></g>
<g transform="translate(160.3 691.2) scale(0.92 1)"><text x="0" y="0" font-size="12.2" fill="#111" stroke="#111" stroke-width="0.3">2</text></g>
<g transform="translate(203.3 697.8) scale(0.82 1)"><text x="0" y="0" font-size="12.2" fill="#111" stroke="#111" stroke-width="0.3">10</text></g>
<g transform="translate(213.2 691.2) scale(0.92 1)"><text x="0" y="0" font-size="12.2" fill="#111" stroke="#111" stroke-width="0.3">3</text></g>
<g transform="translate(256.2 697.8) scale(0.82 1)"><text x="0" y="0" font-size="12.2" fill="#111" stroke="#111" stroke-width="0.3">10</text></g>
<g transform="translate(266.1 691.2) scale(0.92 1)"><text x="0" y="0" font-size="12.2" fill="#111" stroke="#111" stroke-width="0.3">4</text></g>
<g transform="translate(41.6 687.2) rotate(-90) scale(0.82 1)"><text x="0" y="0" font-size="12.2" fill="#111" stroke="#111" stroke-width="0.3">10</text></g>
<g transform="translate(35.4 675.4) rotate(-90) scale(0.92 1)"><text x="0" y="0" font-size="12.2" fill="#111" stroke="#111" stroke-width="0.3">0</text></g>
<g transform="translate(41.6 648.45) rotate(-90) scale(0.82 1)"><text x="0" y="0" font-size="12.2" fill="#111" stroke="#111" stroke-width="0.3">10</text></g>
<g transform="translate(35.4 636.65) rotate(-90) scale(0.92 1)"><text x="0" y="0" font-size="12.2" fill="#111" stroke="#111" stroke-width="0.3">1</text></g>
<g transform="translate(41.6 609.7) rotate(-90) scale(0.82 1)"><text x="0" y="0" font-size="12.2" fill="#111" stroke="#111" stroke-width="0.3">10</text></g>
<g transform="translate(35.4 597.9) rotate(-90) scale(0.92 1)"><text x="0" y="0" font-size="12.2" fill="#111" stroke="#111" stroke-width="0.3">2</text></g>
<g transform="translate(41.6 570.95) rotate(-90) scale(0.82 1)"><text x="0" y="0" font-size="12.2" fill="#111" stroke="#111" stroke-width="0.3">10</text></g>
<g transform="translate(35.4 559.15) rotate(-90) scale(0.92 1)"><text x="0" y="0" font-size="12.2" fill="#111" stroke="#111" stroke-width="0.3">3</text></g>
<g transform="translate(41.6 532.2) rotate(-90) scale(0.82 1)"><text x="0" y="0" font-size="12.2" fill="#111" stroke="#111" stroke-width="0.3">10</text></g>
<g transform="translate(35.4 520.4) rotate(-90) scale(0.92 1)"><text x="0" y="0" font-size="12.2" fill="#111" stroke="#111" stroke-width="0.3">4</text></g>
<g transform="translate(14.6 618.2) rotate(-90)"><text x="0" y="0" font-size="16.2" fill="#111" stroke="#111" stroke-width="0.25" textLength="37" lengthAdjust="spacingAndGlyphs">CD3</text></g>
<path d="M62.5 706.4L241.5 706.4" stroke="#111" stroke-width="1.5" fill="none"/>
<path d="M251 706.4L240.5 710.1L240.5 702.7Z" fill="#111"/>
<text x="136" y="735.2" font-size="16.6" text-anchor="start" font-weight="normal" fill="#111" stroke="#111" stroke-width="0.25"  textLength="37.2" lengthAdjust="spacingAndGlyphs">GFP</text>
<path d="M274 586.8L347.36 537.46" stroke="#111" stroke-width="1.25" fill="none"/>
<path d="M354 533L348.54 541.01L344.52 535.04Z" fill="#111"/>
<path d="M275 626L347.87 675.32" stroke="#111" stroke-width="1.25" fill="none"/>
<path d="M354.5 679.8L345.03 677.74L349.06 671.77Z" fill="#111"/>
<path d="M376.8 573.03L377.9 573.03L377.9 572.67L379 572.67L379 572.51L380.1 572.51L380.1 572.07L381.2 572.07L381.2 572.68L382.3 572.68L382.3 572.13L383.4 572.13L383.4 574.81L384.5 574.81L384.5 573.5L385.6 573.5L385.6 572.07L386.7 572.07L386.7 572.95L387.8 572.95L387.8 572.2L388.9 572.2L388.9 574.56L390 574.56L390 573.49L391.1 573.49L391.1 574.16L392.2 574.16L392.2 572.27L393.3 572.27L393.3 572.18L394.4 572.18L394.4 574.41L395.5 574.41L395.5 574.25L396.6 574.25L396.6 574.06L397.7 574.06L397.7 572.15L398.8 572.15L398.8 572.6L399.9 572.6L399.9 574.42L401 574.42L401 571.83L402.1 571.83L402.1 572.98L403.2 572.98L403.2 572.37L404.3 572.37L404.3 574.52L405.4 574.52L405.4 574.89L406.5 574.89L406.5 572.29L407.6 572.29L407.6 574.27L408.7 574.27L408.7 573.05L409.8 573.05L409.8 570.75L410.9 570.75L410.9 571.74L412 571.74L412 574.03L413.1 574.03L413.1 572.02L414.2 572.02L414.2 573.28L415.3 573.28L415.3 572.87L416.4 572.87L416.4 574.29L417.5 574.29L417.5 572.08L418.6 572.08L418.6 572.83L419.7 572.83L419.7 572L420.8 572L420.8 572.22L421.9 572.22L421.9 574L423 574L423 573.82L424.1 573.82L424.1 574.4L425.2 574.4L425.2 574.46L426.3 574.46L426.3 574.7L427.4 574.7L427.4 574L428.5 574L428.5 573.09L429.6 573.09L429.6 574.89L430.7 574.89L430.7 572.87L431.8 572.87L431.8 573.89L432.9 573.89L432.9 573.97L434 573.97L434 572.44L435.1 572.44L435.1 573.46L436.2 573.46L436.2 573.95L437.3 573.95L437.3 573.46L438.4 573.46L438.4 572.79L439.5 572.79L439.5 574.73L440.6 574.73L440.6 571.97L441.7 571.97L441.7 574.83L442.8 574.83L442.8 572.65L443.9 572.65L443.9 572.37L445 572.37L445 574.85L446.1 574.85L446.1 572.54L447.2 572.54L447.2 573.8L448.3 573.8L448.3 573.16L449.4 573.16L449.4 574.87L450.5 574.87L450.5 574.76L451.6 574.76L451.6 574.36L452.7 574.36L452.7 572.03L453.8 572.03L453.8 574.31L454.9 574.31L454.9 572.63L456 572.63L456 574.29L457.1 574.29L457.1 573.43L458.2 573.43L458.2 571.55L459.3 571.55L459.3 570.47L460.4 570.47L460.4 569.64L461.5 569.64L461.5 566.96L462.6 566.96L462.6 562.07L463.7 562.07L463.7 557.9L464.8 557.9L464.8 551.67L465.9 551.67L465.9 541.81L467 541.81L467 530.98L468.1 530.98L468.1 524.06L469.2 524.06L469.2 514.78L470.3 514.78L470.3 509.34L471.4 509.34L471.4 505.41L472.5 505.41L472.5 507.17L473.6 507.17L473.6 513.24L474.7 513.24L474.7 516.36L475.8 516.36L475.8 515.16L476.9 515.16L476.9 521.62L478 521.62L478 531.71L479.1 531.71L479.1 545.07L480.2 545.07L480.2 554.92L481.3 554.92L481.3 560.75L482.4 560.75L482.4 567.05L483.5 567.05L483.5 570.29L484.6 570.29L484.6 571.58L485.7 571.58L485.7 572.71L486.8 572.71L486.8 575.32L487.9 575.32L487.9 574.82L489 574.82L489 575.09L490.1 575.09L490.1 575.26L491.2 575.26L491.2 574.91L492.3 574.91L492.3 574.67L493.4 574.67L493.4 575.04L494.5 575.04L494.5 575.08L495.6 575.08L495.6 575.44L496.7 575.44L496.7 574.58L497.8 574.58L497.8 575.47L498.9 575.47L498.9 575.01L500 575.01L500 574.66L501.1 574.66L501.1 575.37L502.2 575.37L502.2 574.77L503.3 574.77L503.3 574.55L504.4 574.55L504.4 574.87L504.4 576.6L376.8 576.6Z" stroke="#1e1e1e" stroke-width="1.15" fill="#6a6a6a" stroke-linejoin="miter"/>
<path d="M375.6 479H506.2V577.6" stroke="#161616" stroke-width="1.3" fill="none"/>
<path d="M375.6 478.4V577.6H506.8" stroke="#0c0c0c" stroke-width="1.8" fill="none"/>
<path d="M376.4 549.5V577.6" stroke="#0c0c0c" stroke-width="2" fill="none"/>
<path d="M376.8 562V577.6" stroke="#0c0c0c" stroke-width="3.2" fill="none"/>
<path d="M375.1 577.6h-5.4M375.1 573.65h-4.2M375.1 569.7h-4.2M375.1 565.75h-4.2M375.1 561.8h-4.2M375.1 557.85h-5.4M375.1 553.9h-4.2M375.1 549.95h-4.2M375.1 546h-4.2M375.1 542.05h-4.2M375.1 538.1h-5.4M375.1 534.15h-4.2M375.1 530.2h-4.2M375.1 526.25h-4.2M375.1 522.3h-4.2M375.1 518.35h-5.4M375.1 514.4h-4.2M375.1 510.45h-4.2M375.1 506.5h-4.2M375.1 502.55h-4.2M375.1 498.6h-5.4M375.1 494.65h-4.2M375.1 490.7h-4.2M375.1 486.75h-4.2M375.1 482.8h-4.2M375.1 478.85h-5.4" stroke="#111" stroke-width="1.4" fill="none"/>
<path d="M375.6 578.1v5.5M385.43 578.1v3.2M391.18 578.1v3.2M395.26 578.1v3.2M398.42 578.1v3.2M401.01 578.1v3.2M403.19 578.1v3.2M405.09 578.1v3.2M406.76 578.1v3.2M408.25 578.1v5.5M418.08 578.1v3.2M423.83 578.1v3.2M427.91 578.1v3.2M431.07 578.1v3.2M433.66 578.1v3.2M435.84 578.1v3.2M437.74 578.1v3.2M439.41 578.1v3.2M440.9 578.1v5.5M450.73 578.1v3.2M456.48 578.1v3.2M460.56 578.1v3.2M463.72 578.1v3.2M466.31 578.1v3.2M468.49 578.1v3.2M470.39 578.1v3.2M472.06 578.1v3.2M473.55 578.1v5.5M483.38 578.1v3.2M489.13 578.1v3.2M493.21 578.1v3.2M496.37 578.1v3.2M498.96 578.1v3.2M501.14 578.1v3.2M503.04 578.1v3.2M504.71 578.1v3.2M506.2 578.1v5.5" stroke="#111" stroke-width="1.2" fill="none"/>
<g transform="translate(368.3 597.2) scale(0.82 1)"><text x="0" y="0" font-size="12.2" fill="#111" stroke="#111" stroke-width="0.3">10</text></g>
<g transform="translate(378.9 591.1) scale(0.92 1)"><text x="0" y="0" font-size="12.2" fill="#111" stroke="#111" stroke-width="0.3">0</text></g>
<g transform="translate(400.95 597.2) scale(0.82 1)"><text x="0" y="0" font-size="12.2" fill="#111" stroke="#111" stroke-width="0.3">10</text></g>
<g transform="translate(411.55 591.1) scale(0.92 1)"><text x="0" y="0" font-size="12.2" fill="#111" stroke="#111" stroke-width="0.3">1</text></g>
<g transform="translate(433.6 597.2) scale(0.82 1)"><text x="0" y="0" font-size="12.2" fill="#111" stroke="#111" stroke-width="0.3">10</text></g>
<g transform="translate(444.2 591.1) scale(0.92 1)"><text x="0" y="0" font-size="12.2" fill="#111" stroke="#111" stroke-width="0.3">2</text></g>
<g transform="translate(466.25 597.2) scale(0.82 1)"><text x="0" y="0" font-size="12.2" fill="#111" stroke="#111" stroke-width="0.3">10</text></g>
<g transform="translate(476.85 591.1) scale(0.92 1)"><text x="0" y="0" font-size="12.2" fill="#111" stroke="#111" stroke-width="0.3">3</text></g>
<g transform="translate(498.9 597.2) scale(0.82 1)"><text x="0" y="0" font-size="12.2" fill="#111" stroke="#111" stroke-width="0.3">10</text></g>
<g transform="translate(509.5 591.1) scale(0.92 1)"><text x="0" y="0" font-size="12.2" fill="#111" stroke="#111" stroke-width="0.3">4</text></g>
<text x="380.6" y="498.6" font-size="12.6" text-anchor="start" font-weight="normal" fill="#111" stroke="#111" stroke-width="0.25"  textLength="6.4" lengthAdjust="spacingAndGlyphs">1</text>
<path d="M431.8 491V512.4M431.8 501.8H505" stroke="#111" stroke-width="1.3" fill="none"/>
<text x="460.6" y="498.3" font-size="12" text-anchor="start" font-weight="normal" fill="#111" stroke="#111" stroke-width="0.25"  textLength="25" lengthAdjust="spacingAndGlyphs">97%</text>
<text x="422.8" y="617.1" font-size="17" text-anchor="start" font-weight="normal" fill="#111" stroke="#111" stroke-width="0.25"  textLength="36.5" lengthAdjust="spacingAndGlyphs">CD4</text>
<path d="M377 737.51L378.1 737.51L378.1 737.78L379.2 737.78L379.2 738.48L380.3 738.48L380.3 736.3L381.4 736.3L381.4 737.98L382.5 737.98L382.5 735.39L383.6 735.39L383.6 734.21L384.7 734.21L384.7 737.76L385.8 737.76L385.8 734.24L386.9 734.24L386.9 734.05L388 734.05L388 737.43L389.1 737.43L389.1 737.76L390.2 737.76L390.2 733.86L391.3 733.86L391.3 731.04L392.4 731.04L392.4 733.8L393.5 733.8L393.5 738.43L394.6 738.43L394.6 738.19L395.7 738.19L395.7 738.57L396.8 738.57L396.8 737.38L397.9 737.38L397.9 735.23L399 735.23L399 735.13L400.1 735.13L400.1 735.68L401.2 735.68L401.2 737.75L402.3 737.75L402.3 736.66L403.4 736.66L403.4 738.59L404.5 738.59L404.5 738.03L405.6 738.03L405.6 736.88L406.7 736.88L406.7 736.72L407.8 736.72L407.8 737.63L408.9 737.63L408.9 735.14L410 735.14L410 734.6L411.1 734.6L411.1 736.7L412.2 736.7L412.2 738.06L413.3 738.06L413.3 736.47L414.4 736.47L414.4 738.3L415.5 738.3L415.5 736.24L416.6 736.24L416.6 736.26L417.7 736.26L417.7 738.74L418.8 738.74L418.8 737.76L419.9 737.76L419.9 737.42L421 737.42L421 738.83L422.1 738.83L422.1 737.63L423.2 737.63L423.2 736.18L424.3 736.18L424.3 738.56L425.4 738.56L425.4 737.11L426.5 737.11L426.5 738.54L427.6 738.54L427.6 737.16L428.7 737.16L428.7 736.21L429.8 736.21L429.8 738.29L430.9 738.29L430.9 738.88L432 738.88L432 738.65L433.1 738.65L433.1 737.28L434.2 737.28L434.2 738.85L435.3 738.85L435.3 738.65L436.4 738.65L436.4 737.41L437.5 737.41L437.5 737.59L438.6 737.59L438.6 735.51L439.7 735.51L439.7 734.19L440.8 734.19L440.8 732.95L441.9 732.95L441.9 730.34L443 730.34L443 729.22L444.1 729.22L444.1 725.22L445.2 725.22L445.2 722.57L446.3 722.57L446.3 719.83L447.4 719.83L447.4 714.97L448.5 714.97L448.5 711.8L449.6 711.8L449.6 707.91L450.7 707.91L450.7 702.8L451.8 702.8L451.8 698.03L452.9 698.03L452.9 693.33L454 693.33L454 688.8L455.1 688.8L455.1 683.1L456.2 683.1L456.2 680.8L457.3 680.8L457.3 682.03L458.4 682.03L458.4 684.23L459.5 684.23L459.5 686.63L460.6 686.63L460.6 688.16L461.7 688.16L461.7 692.21L462.8 692.21L462.8 696.33L463.9 696.33L463.9 700.04L465 700.04L465 704.68L466.1 704.68L466.1 708.51L467.2 708.51L467.2 713.86L468.3 713.86L468.3 720.05L469.4 720.05L469.4 725.07L470.5 725.07L470.5 729.74L471.6 729.74L471.6 731.94L472.7 731.94L472.7 735.16L473.8 735.16L473.8 735.92L474.9 735.92L474.9 736.13L476 736.13L476 738.48L477.1 738.48L477.1 738L478.2 738L478.2 737.65L479.3 737.65L479.3 738.13L480.4 738.13L480.4 737.62L481.5 737.62L481.5 737.89L482.6 737.89L482.6 738.4L483.7 738.4L483.7 736.23L484.8 736.23L484.8 736.17L485.9 736.17L485.9 735.88L487 735.88L487 738.54L488.1 738.54L488.1 736.88L489.2 736.88L489.2 736.82L490.3 736.82L490.3 736.52L491.4 736.52L491.4 734.84L492.5 734.84L492.5 735.85L493.6 735.85L493.6 735.99L494.7 735.99L494.7 737.66L495.8 737.66L495.8 738.09L496.9 738.09L496.9 738.38L498 738.38L498 737.55L499.1 737.55L499.1 737.9L500.2 737.9L500.2 737.58L501.3 737.58L501.3 739.01L502.4 739.01L502.4 738.79L503.5 738.79L503.5 737.32L504.6 737.32L504.6 739.08L504.6 740.6L377 740.6Z" stroke="#1e1e1e" stroke-width="1.15" fill="#6a6a6a" stroke-linejoin="miter"/>
<path d="M375.8 643.9H506.3V741.6" stroke="#161616" stroke-width="1.3" fill="none"/>
<path d="M375.8 643.3V741.6H506.9" stroke="#0c0c0c" stroke-width="1.8" fill="none"/>
<path d="M376.6 690.5V741.6" stroke="#0c0c0c" stroke-width="2" fill="none"/>
<path d="M377 722V741.6" stroke="#0c0c0c" stroke-width="3.2" fill="none"/>
<path d="M375.3 741.6h-5.4M375.3 737.65h-4.2M375.3 733.7h-4.2M375.3 729.75h-4.2M375.3 725.8h-4.2M375.3 721.85h-5.4M375.3 717.9h-4.2M375.3 713.95h-4.2M375.3 710h-4.2M375.3 706.05h-4.2M375.3 702.1h-5.4M375.3 698.15h-4.2M375.3 694.2h-4.2M375.3 690.25h-4.2M375.3 686.3h-4.2M375.3 682.35h-5.4M375.3 678.4h-4.2M375.3 674.45h-4.2M375.3 670.5h-4.2M375.3 666.55h-4.2M375.3 662.6h-5.4M375.3 658.65h-4.2M375.3 654.7h-4.2M375.3 650.75h-4.2M375.3 646.8h-4.2" stroke="#111" stroke-width="1.4" fill="none"/>
<path d="M375.8 742.1v5.5M385.62 742.1v3.2M391.37 742.1v3.2M395.44 742.1v3.2M398.6 742.1v3.2M401.19 742.1v3.2M403.37 742.1v3.2M405.26 742.1v3.2M406.93 742.1v3.2M408.43 742.1v5.5M418.25 742.1v3.2M423.99 742.1v3.2M428.07 742.1v3.2M431.23 742.1v3.2M433.81 742.1v3.2M436 742.1v3.2M437.89 742.1v3.2M439.56 742.1v3.2M441.05 742.1v5.5M450.87 742.1v3.2M456.62 742.1v3.2M460.69 742.1v3.2M463.85 742.1v3.2M466.44 742.1v3.2M468.62 742.1v3.2M470.51 742.1v3.2M472.18 742.1v3.2M473.68 742.1v5.5M483.5 742.1v3.2M489.24 742.1v3.2M493.32 742.1v3.2M496.48 742.1v3.2M499.06 742.1v3.2M501.25 742.1v3.2M503.14 742.1v3.2M504.81 742.1v3.2M506.3 742.1v5.5" stroke="#111" stroke-width="1.2" fill="none"/>
<g transform="translate(368.5 761.2) scale(0.82 1)"><text x="0" y="0" font-size="12.2" fill="#111" stroke="#111" stroke-width="0.3">10</text></g>
<g transform="translate(379.1 755.1) scale(0.92 1)"><text x="0" y="0" font-size="12.2" fill="#111" stroke="#111" stroke-width="0.3">0</text></g>
<g transform="translate(401.12 761.2) scale(0.82 1)"><text x="0" y="0" font-size="12.2" fill="#111" stroke="#111" stroke-width="0.3">10</text></g>
<g transform="translate(411.73 755.1) scale(0.92 1)"><text x="0" y="0" font-size="12.2" fill="#111" stroke="#111" stroke-width="0.3">1</text></g>
<g transform="translate(433.75 761.2) scale(0.82 1)"><text x="0" y="0" font-size="12.2" fill="#111" stroke="#111" stroke-width="0.3">10</text></g>
<g transform="translate(444.35 755.1) scale(0.92 1)"><text x="0" y="0" font-size="12.2" fill="#111" stroke="#111" stroke-width="0.3">2</text></g>
<g transform="translate(466.38 761.2) scale(0.82 1)"><text x="0" y="0" font-size="12.2" fill="#111" stroke="#111" stroke-width="0.3">10</text></g>
<g transform="translate(476.98 755.1) scale(0.92 1)"><text x="0" y="0" font-size="12.2" fill="#111" stroke="#111" stroke-width="0.3">3</text></g>
<g transform="translate(499 761.2) scale(0.82 1)"><text x="0" y="0" font-size="12.2" fill="#111" stroke="#111" stroke-width="0.3">10</text></g>
<g transform="translate(509.6 755.1) scale(0.92 1)"><text x="0" y="0" font-size="12.2" fill="#111" stroke="#111" stroke-width="0.3">4</text></g>
<text x="379.6" y="663.5" font-size="12.6" text-anchor="start" font-weight="normal" fill="#111" stroke="#111" stroke-width="0.25"  textLength="8.4" lengthAdjust="spacingAndGlyphs">2</text>
<path d="M431.8 655.7V677.1M431.8 666.5H505" stroke="#111" stroke-width="1.3" fill="none"/>
<text x="458.6" y="663.2" font-size="12" text-anchor="start" font-weight="normal" fill="#111" stroke="#111" stroke-width="0.25"  textLength="25" lengthAdjust="spacingAndGlyphs">92%</text>
<text x="423.6" y="782.7" font-size="17" text-anchor="start" font-weight="normal" fill="#111" stroke="#111" stroke-width="0.25"  textLength="36.5" lengthAdjust="spacingAndGlyphs">CD8</text>
</svg></body></html>
